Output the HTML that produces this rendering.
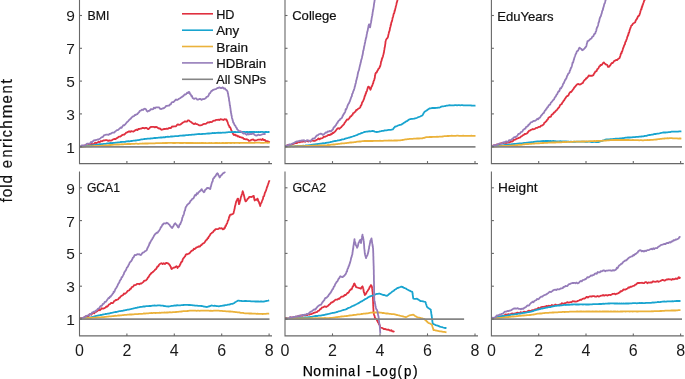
<!DOCTYPE html><html><head><meta charset="utf-8"><style>html,body{margin:0;padding:0;background:#fff;}svg{display:block;will-change:transform;}text{font-family:"Liberation Sans", sans-serif;fill:#111111;stroke:#111111;stroke-width:0.2px;}</style></head><body>
<svg width="685" height="379" viewBox="0 0 685 379">
<rect width="685" height="379" fill="#fff"/>
<defs>
<clipPath id="cBMI"><rect x="79.5" y="-0.9" width="196.5" height="164.0"/></clipPath>
<clipPath id="cCollege"><rect x="285.0" y="-0.9" width="197.0" height="164.0"/></clipPath>
<clipPath id="cEduYears"><rect x="491.4" y="-0.9" width="196.4" height="164.0"/></clipPath>
<clipPath id="cGCA1"><rect x="79.5" y="171.4" width="196.5" height="164.0"/></clipPath>
<clipPath id="cGCA2"><rect x="285.0" y="171.4" width="197.0" height="164.0"/></clipPath>
<clipPath id="cHeight"><rect x="491.4" y="171.4" width="196.4" height="164.0"/></clipPath>
</defs>
<g clip-path="url(#cBMI)" fill="none" stroke-width="1.8" stroke-linejoin="round" stroke-linecap="butt">
<polyline stroke="#e0303f" points="79.5,146.7 80.6,147.1 81.7,146.5 82.8,146.8 83.8,145.8 84.9,145.4 86.0,145.5 87.1,145.5 88.2,145.0 89.4,144.1 90.6,144.0 91.7,144.0 92.9,144.1 94.1,143.9 95.2,142.7 96.3,143.1 97.5,142.5 98.7,141.7 99.8,142.2 100.9,141.0 102.1,141.3 103.3,140.5 104.6,140.4 105.8,140.1 107.0,140.2 108.3,140.9 109.5,140.4 110.7,140.6 111.8,140.3 112.9,139.5 114.1,139.0 115.3,139.2 116.6,138.3 117.8,137.6 118.9,136.6 120.0,136.7 121.1,135.9 122.2,135.1 123.3,134.7 124.4,134.5 125.3,133.7 126.2,132.6 127.1,132.4 128.0,131.9 129.1,131.2 130.2,131.9 131.3,131.1 132.4,131.4 133.5,131.6 134.6,130.8 135.6,130.0 136.5,129.6 137.5,130.1 138.5,128.8 139.4,129.0 140.4,128.6 141.4,128.6 142.4,127.9 143.5,128.0 144.5,128.4 145.5,127.9 146.6,127.8 147.7,129.0 148.7,129.0 149.7,127.8 150.8,127.0 151.8,126.9 152.8,126.8 153.8,126.9 154.9,127.3 155.9,126.9 157.0,127.2 158.0,127.9 159.0,128.6 159.9,128.3 160.9,129.4 162.0,129.8 163.1,129.3 164.2,128.9 165.3,129.0 166.5,128.6 167.7,128.9 168.8,128.1 170.0,127.9 171.0,128.0 172.0,126.5 173.0,126.6 174.0,126.3 175.0,126.4 176.0,126.3 177.0,124.9 178.0,124.4 179.0,124.8 180.0,124.6 181.0,124.1 182.0,123.3 183.0,122.5 184.0,122.0 185.0,121.3 186.0,121.6 186.9,121.6 187.9,120.4 188.9,120.4 189.7,121.2 190.6,121.7 191.4,122.2 192.3,123.1 193.1,123.5 194.2,124.2 195.2,123.3 196.2,124.1 197.3,124.2 198.3,124.7 199.4,125.4 200.4,125.4 201.5,125.2 202.4,124.7 203.4,124.1 204.3,123.8 205.3,123.9 206.2,123.6 207.2,122.8 208.1,122.2 209.1,122.7 210.0,121.8 211.1,122.2 212.1,121.8 213.2,120.9 214.2,120.6 215.2,120.6 216.3,119.8 217.3,119.8 218.4,119.7 219.4,120.0 220.4,119.2 221.4,119.4 222.4,119.7 223.4,120.0 224.4,119.2 225.4,119.5 226.4,119.3 226.8,120.5 227.3,121.5 227.7,122.4 228.1,123.8 228.6,125.2 229.0,125.6 229.5,127.2 229.9,127.0 230.4,127.8 230.9,129.2 231.3,130.2 231.8,131.1 232.3,132.3 232.7,133.0 233.2,134.1 234.1,135.1 235.0,134.5 235.9,135.6 236.8,135.4 237.7,136.5 238.6,136.2 239.5,137.2 240.6,137.2 241.6,137.6 242.7,137.7 243.7,138.9 244.8,139.0 245.8,139.3 246.9,139.2 247.9,139.7 248.9,140.9 250.0,140.6 251.1,140.0 252.1,139.6 253.2,139.5 254.5,140.5 255.8,140.3 257.0,140.0 258.2,139.6 259.4,139.6 260.6,139.5 261.7,140.0 262.7,139.0 263.8,140.2 264.8,139.8 265.8,141.1 267.1,141.2 268.5,141.6 269.8,142.2"/>
<polyline stroke="#18a4cf" points="79.5,146.7 80.6,146.6 81.7,146.5 82.8,146.4 83.8,146.4 84.9,146.4 86.0,146.1 87.1,146.0 88.2,146.0 89.2,145.8 90.3,145.6 91.3,145.5 92.3,145.5 93.4,145.2 94.4,145.2 95.4,144.9 96.5,144.7 97.5,144.6 98.5,144.4 99.5,144.2 100.6,144.2 101.6,144.1 102.6,144.1 103.6,143.9 104.7,143.8 105.7,143.8 106.7,143.5 107.7,143.3 108.7,143.3 109.8,143.1 110.8,143.0 111.8,143.1 112.8,143.0 113.9,142.9 114.9,142.8 115.9,142.7 116.9,142.6 118.0,142.3 119.0,142.3 120.0,142.2 121.0,142.0 122.1,141.9 123.1,141.8 124.2,141.8 125.2,141.8 126.3,141.4 127.3,141.4 128.3,141.2 129.4,141.4 130.4,141.2 131.5,141.0 132.5,140.8 133.6,140.7 134.6,140.7 135.6,140.5 136.6,140.3 137.6,140.1 138.6,140.2 139.6,139.8 140.5,139.6 141.5,139.4 142.5,139.3 143.5,139.2 144.5,139.0 145.5,138.9 146.5,138.9 147.5,138.6 148.5,138.7 149.5,138.6 150.5,138.5 151.5,138.4 152.5,138.3 153.5,138.1 154.5,138.0 155.5,138.0 156.5,137.8 157.5,137.8 158.6,137.7 159.6,137.6 160.7,137.4 161.7,137.5 162.7,137.3 163.8,137.2 164.8,137.3 165.8,136.9 166.9,136.9 167.9,136.7 169.0,136.8 170.0,136.7 171.0,136.5 172.0,136.5 173.0,136.3 174.0,136.3 175.0,136.2 176.0,136.1 177.0,136.1 178.0,136.1 179.0,135.8 180.0,135.7 181.0,135.7 182.1,135.7 183.1,135.5 184.1,135.5 185.1,135.3 186.1,135.1 187.1,135.1 188.1,135.1 189.1,134.8 190.1,134.8 191.1,134.9 192.1,134.6 193.1,134.6 194.1,134.6 195.1,134.4 196.1,134.3 197.1,134.2 198.1,134.2 199.1,134.0 200.1,134.1 201.1,134.1 202.1,134.0 203.1,133.9 204.2,133.9 205.2,133.8 206.2,133.7 207.2,133.7 208.2,133.3 209.2,133.5 210.2,133.4 211.2,133.3 212.2,133.0 213.2,133.1 214.2,133.0 215.2,133.1 216.2,132.9 217.2,132.9 218.2,132.7 219.2,132.9 220.2,132.7 221.2,132.8 222.2,132.7 223.2,132.6 224.2,132.6 225.3,132.6 226.3,132.4 227.3,132.3 228.3,132.2 229.3,132.2 230.3,132.2 231.3,132.2 232.3,132.0 233.3,132.2 234.3,132.0 235.3,132.0 236.3,132.1 237.3,132.1 238.3,132.0 239.3,132.1 240.3,132.1 241.3,131.9 242.3,131.9 243.3,131.9 244.3,131.9 245.3,132.1 246.4,132.0 247.4,132.0 248.4,132.1 249.4,131.9 250.4,132.0 251.4,131.9 252.4,132.0 253.4,131.9 254.4,132.0 255.4,132.1 256.4,132.0 257.4,132.1 258.4,131.9 259.4,132.1 260.4,132.0 261.4,131.9 262.4,131.9 263.5,132.1 264.5,132.1 265.5,132.0 266.5,131.9 267.5,132.1 268.5,132.0 269.5,132.0"/>
<polyline stroke="#ebb23b" points="79.5,146.7 80.5,146.7 81.5,146.6 82.5,146.6 83.5,146.5 84.5,146.5 85.5,146.5 86.5,146.4 87.5,146.3 88.5,146.4 89.5,146.3 90.5,146.2 91.5,146.3 92.5,146.2 93.5,146.2 94.5,146.0 95.5,146.2 96.5,146.0 97.5,146.0 98.5,145.9 99.5,145.9 100.6,145.8 101.6,145.7 102.6,145.7 103.6,145.6 104.7,145.5 105.7,145.4 106.7,145.3 107.7,145.3 108.8,145.1 109.8,145.0 110.8,145.0 111.8,144.9 112.8,144.8 113.9,144.7 114.9,144.6 115.9,144.6 116.9,144.4 118.0,144.5 119.0,144.5 120.0,144.3 121.0,144.3 122.1,144.2 123.1,144.3 124.2,144.2 125.2,144.2 126.3,144.2 127.3,144.0 128.3,144.0 129.4,144.0 130.4,144.0 131.5,143.9 132.5,143.9 133.6,143.8 134.6,143.8 135.6,143.7 136.7,143.7 137.7,143.8 138.8,143.8 139.8,143.7 140.9,143.6 141.9,143.6 142.9,143.5 143.9,143.6 144.9,143.5 145.9,143.4 146.9,143.5 147.9,143.5 148.9,143.4 149.9,143.3 150.9,143.4 151.9,143.4 152.9,143.4 153.9,143.3 154.9,143.3 155.9,143.2 157.0,143.2 158.0,143.2 159.0,143.2 160.0,143.1 161.0,143.2 162.0,143.1 163.0,143.0 164.0,143.1 165.0,143.0 166.0,143.0 167.0,143.0 168.0,142.9 169.0,142.9 170.0,142.9 171.0,142.9 172.0,142.9 173.0,143.0 174.0,142.9 175.0,143.0 176.0,142.8 177.0,142.8 178.0,142.9 179.0,142.9 180.0,143.0 181.1,143.0 182.1,142.9 183.1,143.0 184.1,142.9 185.1,142.9 186.1,143.0 187.1,143.0 188.1,143.0 189.1,143.0 190.1,143.0 191.1,143.0 192.1,142.9 193.1,143.0 194.1,143.1 195.1,143.0 196.1,143.1 197.1,143.0 198.1,143.1 199.1,143.0 200.1,143.1 201.1,143.0 202.1,143.0 203.1,143.0 204.2,143.1 205.2,143.0 206.2,143.1 207.2,143.1 208.2,143.1 209.2,143.0 210.2,143.1 211.2,143.0 212.2,143.2 213.2,143.1 214.2,143.1 215.2,143.0 216.2,143.0 217.2,143.0 218.2,143.1 219.2,143.0 220.2,143.1 221.2,143.1 222.2,143.0 223.2,142.9 224.2,143.1 225.3,143.0 226.3,143.0 227.3,143.0 228.3,142.9 229.3,142.9 230.3,143.0 231.3,143.0 232.3,142.9 233.3,142.9 234.3,143.0 235.3,142.9 236.3,142.9 237.3,142.9 238.3,142.8 239.4,143.0 240.4,142.8 241.4,142.8 242.4,142.8 243.4,142.8 244.4,142.8 245.4,142.9 246.5,142.8 247.5,142.8 248.5,142.8 249.5,142.9 250.5,142.9 251.5,142.7 252.6,142.8 253.6,142.8 254.6,142.8 255.6,142.7 256.6,142.7 257.6,142.7 258.6,142.7 259.7,142.7 260.7,142.8 261.7,142.8 262.7,142.8 263.7,142.8 264.7,142.7 265.7,142.6 266.8,142.7 267.8,142.8 268.8,142.7 269.8,142.7"/>
<polyline stroke="#957cb9" points="79.5,146.7 80.5,147.1 81.5,145.5 82.6,145.5 83.6,145.5 84.8,145.7 85.9,144.7 87.0,143.7 88.2,143.7 89.1,143.9 90.1,143.4 91.0,141.9 92.0,142.4 92.9,141.3 94.1,140.3 95.2,140.1 96.3,140.0 97.5,139.5 98.4,139.6 99.3,139.0 100.3,138.5 101.2,137.5 102.1,137.2 103.2,136.6 104.2,135.1 105.3,134.9 106.4,134.6 107.5,134.6 108.6,134.9 109.5,134.0 110.4,133.8 111.4,133.4 112.3,132.6 113.2,132.6 114.1,132.7 115.0,131.7 116.0,130.9 116.9,130.1 117.8,130.2 118.7,129.3 119.6,128.6 120.6,127.5 121.5,127.9 122.4,126.6 123.3,125.1 124.2,125.3 125.2,124.4 126.1,123.3 126.8,122.2 127.5,121.7 128.3,121.1 129.0,120.1 129.8,119.3 130.7,118.7 131.5,117.6 132.3,116.9 133.1,116.3 133.9,116.3 134.8,115.0 135.6,115.0 136.5,114.3 137.3,114.1 138.2,113.0 139.1,112.2 139.9,110.8 140.8,110.7 141.9,109.7 142.9,110.0 143.9,109.0 145.0,108.7 145.9,109.2 146.7,110.8 147.6,111.6 148.4,110.9 149.3,110.9 150.2,110.0 151.0,109.0 152.0,109.4 153.0,109.2 154.0,107.6 154.9,108.3 155.9,107.3 156.9,107.4 157.9,107.3 159.0,107.3 160.2,108.9 161.3,109.0 162.3,108.5 163.3,108.4 164.3,107.9 165.2,107.1 166.2,105.9 167.2,105.8 168.2,105.6 169.1,105.6 169.9,104.5 170.8,104.3 171.6,102.5 172.5,102.1 173.4,102.1 174.2,101.3 175.1,100.4 176.1,99.4 177.1,100.0 178.0,99.5 179.0,98.7 180.0,98.2 181.0,97.5 181.9,96.9 182.8,96.4 183.6,95.7 184.5,94.5 185.4,94.5 186.3,93.9 187.1,92.6 188.0,93.1 188.9,91.9 189.5,92.2 190.1,94.2 190.7,94.4 191.3,96.0 191.9,95.8 192.5,97.7 193.1,98.2 194.2,98.9 195.2,98.3 196.2,98.3 197.3,99.7 198.3,99.6 199.4,98.9 200.4,99.0 201.5,99.9 202.6,99.1 203.7,99.0 204.7,98.8 205.8,98.2 206.5,96.8 207.2,96.8 207.9,96.4 208.6,95.5 209.3,93.5 210.0,93.4 210.7,92.1 211.4,90.9 212.1,90.8 213.3,89.8 214.5,89.4 215.7,89.2 216.6,88.6 217.6,88.0 218.5,87.9 219.4,87.4 220.5,88.0 221.6,88.0 222.7,87.4 223.8,88.5 224.9,88.3 225.6,89.6 226.3,90.1 227.0,90.6 227.7,92.0 227.9,93.6 228.1,93.6 228.2,94.5 228.4,96.3 228.6,96.7 228.8,97.7 229.0,99.0 229.1,100.6 229.3,101.1 229.5,102.2 229.6,103.2 229.8,104.8 229.9,105.8 230.1,105.6 230.2,107.2 230.4,108.2 230.5,108.8 230.7,110.7 230.8,111.8 231.0,112.6 231.1,113.4 231.3,113.6 231.4,115.1 231.7,115.9 231.9,117.7 232.2,118.8 232.4,118.8 232.7,120.5 232.9,120.8 233.2,122.5 233.8,123.0 234.3,124.5 234.9,125.4 235.5,126.0 236.1,127.5 236.7,127.9 237.2,129.4 237.8,129.9 238.7,130.7 239.7,131.3 240.6,131.2 241.5,131.9 242.5,132.8 243.4,133.6 244.5,133.2 245.6,134.0 246.7,134.8 247.8,133.6 248.9,134.5 250.1,133.9 251.4,134.1 252.6,133.6 253.5,133.5 254.4,134.7 255.4,135.3 256.3,135.5 257.4,135.3 258.5,134.6 259.7,135.2 260.8,134.9 261.9,134.5 263.1,134.1 264.4,134.0 265.6,134.0"/>
<line x1="79.5" y1="146.9" x2="269.5" y2="146.9" stroke="#858585" stroke-width="1.7"/>
</g>
<g stroke="#686868" stroke-width="1.1" fill="none">
<path d="M79.5,-0.9 V163.6 H272.0"/>
<line x1="79.5" y1="146.7" x2="82.0" y2="146.7"/>
<line x1="79.5" y1="113.9" x2="82.0" y2="113.9"/>
<line x1="79.5" y1="81.1" x2="82.0" y2="81.1"/>
<line x1="79.5" y1="48.3" x2="82.0" y2="48.3"/>
<line x1="79.5" y1="15.5" x2="82.0" y2="15.5"/>
<line x1="126.9" y1="163.6" x2="126.9" y2="161.1"/>
<line x1="174.3" y1="163.6" x2="174.3" y2="161.1"/>
<line x1="221.7" y1="163.6" x2="221.7" y2="161.1"/>
<line x1="269.1" y1="163.6" x2="269.1" y2="161.1"/>
</g>
<text x="87.6" y="19.9" font-size="13" textLength="21.9" lengthAdjust="spacingAndGlyphs">BMI</text>
<text x="74.9" y="152.6" font-size="15.5" text-anchor="end" style="stroke-width:0;fill:#1a1a1a">1</text>
<text x="74.9" y="119.8" font-size="15.5" text-anchor="end" style="stroke-width:0;fill:#1a1a1a">3</text>
<text x="74.9" y="87.0" font-size="15.5" text-anchor="end" style="stroke-width:0;fill:#1a1a1a">5</text>
<text x="74.9" y="54.2" font-size="15.5" text-anchor="end" style="stroke-width:0;fill:#1a1a1a">7</text>
<text x="74.9" y="21.4" font-size="15.5" text-anchor="end" style="stroke-width:0;fill:#1a1a1a">9</text>
<g clip-path="url(#cCollege)" fill="none" stroke-width="1.8" stroke-linejoin="round" stroke-linecap="butt">
<polyline stroke="#e0303f" points="285.0,146.6 286.1,146.3 287.1,145.5 288.2,144.9 289.2,145.1 290.3,145.5 291.3,144.7 292.4,144.2 293.5,143.8 294.5,143.5 295.6,142.8 296.6,143.1 297.7,142.6 298.8,141.6 299.8,142.3 300.9,141.5 301.9,141.8 303.0,141.7 304.0,141.0 305.1,141.8 306.1,141.0 307.2,140.9 308.2,141.5 309.3,140.7 310.4,141.6 311.4,140.3 312.4,140.5 313.5,140.8 314.3,141.0 315.4,140.7 316.4,139.9 317.5,139.5 318.5,138.5 319.6,139.4 320.6,138.3 321.7,138.3 322.7,138.0 323.8,136.7 324.8,136.9 325.8,136.3 326.9,136.0 327.9,135.1 328.8,134.9 329.8,135.1 330.7,134.1 331.7,134.4 332.5,133.0 333.3,133.1 334.1,132.3 334.9,131.7 335.7,130.9 336.5,129.6 337.4,128.6 338.4,128.2 339.3,128.8 340.3,127.8 341.2,127.2 341.9,126.2 342.6,125.6 343.3,124.9 343.9,124.3 344.6,122.9 345.3,122.0 346.0,120.9 347.0,119.4 348.1,119.6 349.1,118.5 349.8,117.4 350.5,116.3 351.2,116.3 351.8,115.2 352.5,114.8 353.2,113.2 353.9,113.0 354.7,112.1 355.5,111.5 356.3,109.9 357.1,109.8 358.1,108.8 359.2,108.3 360.2,107.4 360.7,105.9 361.1,105.4 361.6,104.6 362.0,102.7 362.5,101.9 362.9,101.4 363.4,100.3 363.8,99.2 364.1,98.7 364.5,97.0 364.8,95.8 365.2,95.6 365.5,93.9 365.9,93.9 366.2,92.0 366.6,91.6 367.0,90.6 367.3,89.5 367.7,88.1 368.0,87.1 368.4,86.6 369.1,87.1 369.8,88.4 370.5,89.8 370.9,88.6 371.3,87.4 371.6,86.4 372.0,86.2 372.4,85.1 372.8,83.8 373.2,83.2 373.5,81.5 373.9,80.6 374.3,80.0 374.5,78.5 374.7,78.3 374.9,77.2 375.0,75.5 375.2,75.1 375.4,73.8 376.0,72.7 376.6,72.6 377.2,71.1 377.8,70.3 378.4,68.8 379.0,68.5 379.6,67.5 379.9,66.1 380.2,66.2 380.4,65.2 380.7,64.2 381.0,62.1 381.3,61.1 381.6,60.8 381.8,58.9 382.1,59.0 382.4,57.5 382.7,57.2 383.0,56.2 383.2,55.0 383.5,54.2 383.8,52.7 384.0,52.2 384.1,50.9 384.3,50.0 384.5,48.6 384.7,47.2 384.9,46.9 385.0,46.0 385.2,44.5 385.4,43.6 385.5,41.7 385.7,41.0 385.9,40.1 386.6,38.9 387.3,38.2 388.0,36.9 388.2,35.6 388.5,34.3 388.7,33.7 388.9,32.4 389.1,32.0 389.4,31.1 389.6,30.7 389.8,29.5 390.1,27.6 390.3,27.3 390.5,26.7 390.7,24.8 391.0,24.9 391.2,23.2 391.5,22.0 391.8,21.8 392.0,20.8 392.3,19.7 392.6,17.8 392.9,17.3 393.2,16.2 393.4,15.1 393.7,13.7 394.0,13.3 394.3,13.0 394.6,10.7 394.8,11.0 395.1,9.6 395.4,8.4 395.7,7.2 395.9,6.0 396.2,5.2 396.4,4.4 396.7,2.6 397.0,2.0 397.2,1.2 397.5,0.0 397.7,-1.1 397.8,-1.9 398.0,-3.0"/>
<polyline stroke="#18a4cf" points="285.0,146.6 286.0,146.5 287.0,146.4 288.0,146.4 289.0,146.4 290.0,146.4 291.0,146.2 292.0,146.2 293.0,146.3 294.0,146.3 295.1,146.0 296.1,146.1 297.1,146.0 298.1,145.9 299.1,145.9 300.1,146.0 301.1,146.0 302.1,146.0 303.1,145.7 304.1,145.9 305.1,145.7 306.1,145.4 307.1,145.4 308.1,145.4 309.1,145.2 310.1,145.1 311.1,145.0 312.1,144.7 313.1,144.6 314.1,144.4 315.1,144.4 316.2,144.2 317.2,144.2 318.2,143.9 319.2,143.8 320.2,143.6 321.2,143.6 322.2,143.4 323.2,143.2 324.2,143.3 325.2,143.0 326.2,142.9 327.2,142.6 328.2,142.6 329.2,142.3 330.2,142.2 331.2,141.8 332.2,141.7 333.2,141.4 334.2,141.2 335.1,141.0 336.1,140.8 337.1,140.6 338.1,140.3 339.1,140.3 340.1,140.0 341.1,139.8 342.1,139.4 343.1,139.3 344.2,139.1 345.2,138.6 346.2,138.4 347.3,138.2 348.4,137.7 349.4,137.6 350.5,137.2 351.5,136.8 352.6,136.5 353.6,136.2 354.6,135.8 355.5,135.5 356.5,135.1 357.5,134.8 358.4,134.2 359.4,133.9 360.3,133.6 361.3,133.2 362.3,132.8 363.2,132.5 364.2,132.0 365.2,131.8 366.3,131.7 367.4,131.7 368.4,131.3 369.4,131.2 370.5,131.3 371.6,131.1 372.6,130.9 373.7,131.1 374.7,131.6 375.8,131.8 376.8,132.0 377.9,131.9 379.0,131.7 380.0,131.3 381.1,131.2 382.2,130.9 383.3,130.9 384.3,130.5 385.4,130.4 386.4,130.3 387.5,130.1 388.6,129.9 389.6,129.9 390.7,129.8 391.7,129.6 392.8,129.4 393.5,128.4 394.2,127.7 394.9,126.7 395.9,126.5 397.0,126.1 398.0,125.5 399.1,125.2 400.1,124.8 401.2,124.6 402.1,124.1 403.1,123.4 404.0,122.8 404.9,122.4 405.9,121.5 406.8,121.1 407.7,120.6 408.7,119.8 409.6,119.3 410.7,119.0 411.7,118.9 412.8,118.8 413.9,118.7 414.9,118.5 416.0,118.2 417.1,117.7 418.1,117.2 419.1,116.9 420.2,116.5 421.2,115.9 422.3,115.5 422.8,114.7 423.4,113.6 423.9,112.8 424.4,111.9 425.3,111.3 426.2,110.8 427.0,110.2 427.9,109.5 428.8,108.9 429.7,108.3 430.8,108.3 431.8,108.0 432.9,108.0 433.9,107.9 435.0,108.0 436.0,107.8 437.1,107.9 438.1,107.7 439.2,107.7 440.2,107.2 441.3,106.6 442.4,106.3 443.4,106.3 444.4,106.2 445.5,106.0 446.6,105.6 447.6,105.6 448.6,105.4 449.7,105.2 450.8,105.3 451.8,105.3 452.9,105.3 453.9,105.3 455.0,105.1 456.0,105.1 457.1,105.3 458.2,105.1 459.2,105.1 460.3,105.3 461.3,105.2 462.4,105.2 463.4,105.4 464.4,105.4 465.4,105.4 466.4,105.3 467.4,105.4 468.4,105.4 469.5,105.3 470.5,105.3 471.5,105.5 472.5,105.6 473.5,105.7 474.5,105.7 475.5,105.6"/>
<polyline stroke="#ebb23b" points="285.0,146.6 286.0,146.6 287.0,146.6 288.0,146.4 289.0,146.5 290.0,146.5 291.0,146.4 292.0,146.3 293.0,146.3 294.0,146.3 295.0,146.3 296.1,146.2 297.1,146.3 298.1,146.1 299.1,146.2 300.1,146.2 301.1,146.2 302.1,146.1 303.1,146.1 304.1,146.1 305.1,146.1 306.1,145.9 307.1,145.9 308.1,145.8 309.1,145.9 310.1,145.8 311.1,145.8 312.1,145.7 313.1,145.7 314.1,145.7 315.1,145.6 316.2,145.5 317.2,145.6 318.2,145.6 319.2,145.4 320.2,145.4 321.2,145.5 322.2,145.5 323.2,145.4 324.2,145.3 325.2,145.3 326.2,145.3 327.2,145.2 328.2,145.0 329.2,145.1 330.2,144.9 331.2,144.7 332.2,144.6 333.2,144.5 334.2,144.5 335.2,144.3 336.2,144.1 337.3,144.1 338.3,143.9 339.3,143.8 340.3,143.7 341.3,143.5 342.3,143.4 343.3,143.4 344.3,143.3 345.3,143.1 346.3,143.1 347.3,142.9 348.3,142.9 349.3,142.6 350.3,142.5 351.3,142.5 352.3,142.3 353.3,142.3 354.3,142.1 355.3,142.1 356.2,141.9 357.2,141.7 358.2,141.6 359.2,141.5 360.2,141.5 361.2,141.3 362.2,141.2 363.2,141.1 364.2,141.0 365.3,141.0 366.3,141.0 367.4,140.9 368.4,141.0 369.5,141.0 370.6,141.0 371.6,140.9 372.7,141.0 373.8,140.9 374.8,140.9 375.9,140.8 376.9,140.8 378.0,140.8 379.0,140.8 380.0,140.7 381.0,140.8 382.0,140.8 383.0,140.8 384.0,140.7 385.0,140.6 386.0,140.6 387.0,140.6 388.0,140.7 389.1,140.5 390.1,140.6 391.1,140.5 392.1,140.6 393.1,140.6 394.1,140.5 395.1,140.5 396.1,140.4 397.1,140.5 398.1,140.4 399.1,140.4 400.2,140.3 401.2,140.1 402.2,140.0 403.3,139.8 404.4,139.6 405.4,139.4 406.5,139.4 407.5,139.2 408.6,139.1 409.6,138.9 410.7,138.9 411.7,138.9 412.8,138.8 413.8,138.7 414.9,138.7 416.0,138.7 417.0,138.5 418.1,138.5 419.1,138.5 420.2,138.4 421.2,138.4 422.3,138.3 423.4,137.9 424.4,137.8 425.4,137.4 426.5,137.2 427.6,137.1 428.6,137.1 429.7,137.0 430.7,137.0 431.8,137.0 432.8,136.9 433.9,136.9 435.0,136.9 436.0,136.8 437.1,136.7 438.1,136.8 439.2,136.7 440.2,136.7 441.3,136.6 442.4,136.5 443.4,136.3 444.4,136.2 445.5,136.2 446.6,136.1 447.6,135.9 448.6,136.0 449.7,135.8 450.7,135.8 451.8,135.7 452.8,135.8 453.8,135.8 454.9,135.8 455.9,135.8 456.9,135.7 458.0,135.7 459.0,135.8 460.0,135.9 461.1,135.9 462.1,135.8 463.1,135.7 464.1,135.9 465.2,135.8 466.2,135.8 467.2,135.8 468.3,135.8 469.3,135.8 470.3,135.8 471.4,135.7 472.4,135.8 473.4,135.8 474.5,135.8 475.5,135.8"/>
<polyline stroke="#957cb9" points="285.0,146.6 286.1,145.7 287.1,145.2 288.2,145.7 289.2,144.3 290.3,144.4 291.3,144.3 292.4,143.6 293.5,143.1 294.5,142.6 295.6,141.9 296.6,141.5 297.7,141.3 298.8,141.2 299.8,140.7 300.9,140.8 301.9,140.4 302.9,140.5 304.0,140.2 305.0,141.1 306.0,141.0 307.0,140.1 308.0,140.3 309.1,141.1 310.1,141.0 311.1,140.4 312.0,139.4 313.0,138.4 313.9,138.8 314.9,138.1 315.8,136.7 316.8,135.5 317.7,135.3 318.7,134.3 319.6,134.0 320.6,133.6 321.7,133.9 322.7,134.8 323.8,134.4 324.8,133.4 325.8,132.3 326.7,132.7 327.7,131.5 328.7,131.7 329.7,130.9 330.7,131.3 331.7,130.9 332.3,129.8 333.0,129.4 333.6,127.6 334.3,127.1 334.9,126.5 335.5,125.6 336.1,125.0 336.8,123.3 337.4,123.0 338.0,121.7 338.8,120.5 339.6,120.2 340.4,118.8 341.2,118.5 342.0,117.7 342.5,116.2 343.0,115.6 343.4,114.4 343.9,114.0 344.4,113.0 344.8,112.6 345.3,111.5 345.7,109.2 346.2,109.5 346.6,108.3 347.1,107.3 347.5,105.8 348.0,104.6 348.4,103.9 348.9,103.4 349.3,102.2 349.8,101.4 350.2,100.1 350.7,98.7 351.1,97.5 351.4,96.7 351.8,96.4 352.1,94.2 352.5,93.6 352.8,93.1 353.2,91.4 353.5,90.8 353.9,90.0 354.2,89.0 354.5,88.2 354.8,86.3 355.1,86.0 355.4,84.1 355.7,83.4 355.9,82.7 356.2,80.6 356.4,80.0 356.6,79.6 356.9,78.0 357.1,77.4 357.4,76.5 357.6,75.0 357.9,73.5 358.1,72.4 358.4,71.5 358.6,71.0 358.9,70.2 359.1,69.7 359.4,67.9 359.6,67.1 359.9,65.7 360.1,64.8 360.4,64.2 360.6,62.6 360.9,62.0 361.1,60.6 361.4,59.5 361.6,59.1 361.8,58.3 362.0,57.5 362.2,56.2 362.4,55.7 362.7,54.2 362.9,53.3 363.1,51.3 363.3,50.5 363.5,50.4 363.7,49.1 363.9,48.3 364.1,46.6 364.4,45.9 364.6,44.7 364.8,43.3 365.0,43.0 365.2,41.9 365.4,40.3 365.6,40.1 365.8,38.6 366.1,37.9 366.3,37.3 366.5,36.1 366.7,34.5 366.9,33.8 367.1,32.8 367.4,31.2 367.6,31.0 367.8,29.8 368.1,27.9 368.3,27.6 368.5,25.8 368.8,25.1 369.0,24.3 369.4,25.7 369.7,26.2 370.1,27.4 370.3,26.4 370.5,24.9 370.7,23.7 370.9,22.9 371.1,22.2 371.2,21.2 371.4,20.3 371.6,18.7 371.8,17.6 372.0,16.4 372.2,15.8 372.4,14.8 372.5,13.9 372.7,12.0 372.9,11.5 373.0,10.4 373.2,9.8 373.4,8.6 373.5,7.9 373.7,6.8 373.9,5.0 374.0,4.3 374.2,2.9 374.4,2.3 374.5,1.2 374.7,0.0 374.9,-0.4 375.0,-2.1 375.2,-3.0"/>
<line x1="285.0" y1="146.9" x2="475.5" y2="146.9" stroke="#858585" stroke-width="1.7"/>
</g>
<g stroke="#686868" stroke-width="1.1" fill="none">
<path d="M285.0,-0.9 V163.6 H478.0"/>
<line x1="285.0" y1="146.7" x2="287.5" y2="146.7"/>
<line x1="285.0" y1="113.9" x2="287.5" y2="113.9"/>
<line x1="285.0" y1="81.1" x2="287.5" y2="81.1"/>
<line x1="285.0" y1="48.3" x2="287.5" y2="48.3"/>
<line x1="285.0" y1="15.5" x2="287.5" y2="15.5"/>
<line x1="332.5" y1="163.6" x2="332.5" y2="161.1"/>
<line x1="380.0" y1="163.6" x2="380.0" y2="161.1"/>
<line x1="427.5" y1="163.6" x2="427.5" y2="161.1"/>
<line x1="475.0" y1="163.6" x2="475.0" y2="161.1"/>
</g>
<text x="292.2" y="19.9" font-size="13" textLength="44.3" lengthAdjust="spacingAndGlyphs">College</text>
<g clip-path="url(#cEduYears)" fill="none" stroke-width="1.8" stroke-linejoin="round" stroke-linecap="butt">
<polyline stroke="#e0303f" points="491.3,146.6 492.3,146.2 493.3,145.3 494.4,145.3 495.4,145.5 496.4,144.7 497.4,144.5 498.5,144.4 499.5,144.4 500.5,143.6 501.5,143.1 502.6,143.4 503.6,143.2 504.7,142.5 505.7,143.0 506.7,142.8 507.8,142.6 508.8,142.6 509.9,142.1 510.9,141.7 511.8,141.5 512.8,141.4 513.7,139.7 514.6,139.8 515.6,139.5 516.5,138.7 517.4,138.5 518.4,138.2 519.3,137.6 520.2,137.5 521.2,136.3 522.1,136.0 523.0,135.2 523.8,135.0 524.7,133.9 525.6,134.0 526.5,133.7 527.3,133.1 528.2,131.9 529.1,130.7 530.0,130.6 530.8,129.9 531.7,129.6 532.8,129.0 533.9,129.3 535.0,128.7 536.0,127.9 537.1,127.9 538.2,127.2 539.2,126.9 540.1,126.8 541.1,125.7 542.0,125.7 543.0,124.8 543.7,124.5 544.3,122.8 545.0,122.5 545.7,121.6 546.3,121.4 547.0,120.0 547.8,119.5 548.5,117.7 549.3,117.2 550.1,116.9 550.9,116.6 551.7,114.7 552.4,114.5 553.2,113.7 553.9,112.5 554.5,112.5 555.2,111.6 555.8,110.9 556.5,110.3 557.2,109.6 557.8,108.7 558.5,107.9 559.1,107.3 559.8,105.8 560.4,104.6 561.1,104.4 561.7,104.2 562.3,102.7 562.9,102.0 563.5,100.8 564.1,100.5 564.7,99.2 565.4,98.2 566.0,97.4 566.6,96.4 567.2,96.2 567.8,95.9 568.4,95.3 569.0,93.9 569.7,92.8 570.3,92.0 571.0,92.1 571.6,91.4 572.3,90.4 573.0,89.4 573.6,88.8 574.3,87.5 574.9,87.0 575.6,86.2 576.2,85.3 576.9,84.6 578.0,83.9 579.0,84.3 580.1,84.5 581.1,83.9 582.2,83.3 582.9,82.9 583.5,81.5 584.2,80.5 584.8,79.8 585.5,79.5 586.2,78.1 586.8,78.3 587.5,77.3 588.1,76.7 588.8,75.4 589.8,75.8 590.8,75.7 591.8,75.9 592.8,75.4 593.4,75.1 594.1,73.5 594.7,72.9 595.4,71.5 596.0,71.4 596.7,71.0 597.3,69.0 598.0,68.8 598.6,67.9 599.3,66.4 599.9,66.2 600.7,64.8 601.5,65.0 602.2,64.3 603.0,63.1 603.8,62.4 604.6,63.4 605.5,64.0 606.3,64.7 607.2,64.8 608.0,66.8 608.9,66.9 609.6,66.0 610.4,65.2 611.1,63.8 611.8,63.0 612.5,63.1 613.3,62.3 614.0,61.1 615.0,60.7 616.1,59.9 617.1,60.0 618.2,58.9 619.2,58.3 619.6,57.9 620.0,56.7 620.3,56.0 620.7,54.2 621.1,53.1 621.5,53.3 621.8,51.5 622.2,51.4 622.6,50.1 623.0,48.6 623.4,47.5 623.7,46.9 624.1,45.4 624.5,44.8 624.9,44.4 625.2,42.5 625.6,41.7 626.0,41.2 626.3,40.0 626.6,39.5 627.0,38.3 627.3,36.9 627.6,36.5 628.0,35.1 628.3,35.0 628.6,32.9 628.9,32.9 629.2,32.1 629.6,30.6 629.9,29.2 630.2,28.7 630.6,27.7 630.9,26.8 631.2,25.7 632.0,25.3 632.8,23.9 633.6,23.2 634.4,22.8 635.2,22.2 635.7,20.6 636.2,19.8 636.7,19.2 637.2,18.3 637.8,16.8 638.3,16.0 638.8,16.0 639.3,15.3 639.8,13.7 640.1,13.0 640.5,11.0 640.8,10.3 641.2,9.0 641.5,9.1 641.8,7.0 642.2,7.0 642.5,5.0 642.9,4.9 643.2,3.4 643.7,2.3 644.2,0.6 644.7,0.0 644.8,-0.3 644.9,-2.0 645.0,-3.0"/>
<polyline stroke="#18a4cf" points="491.3,146.6 492.4,146.4 493.4,146.4 494.4,146.3 495.5,146.0 496.6,145.9 497.6,145.8 498.6,145.6 499.7,145.6 500.8,145.5 501.8,145.4 502.9,145.4 503.9,145.1 504.9,145.0 506.0,144.9 507.0,144.8 508.0,144.7 509.0,144.6 510.0,144.5 511.0,144.4 512.0,144.2 513.0,144.2 514.0,144.0 515.1,143.9 516.1,143.8 517.1,143.7 518.1,143.6 519.1,143.5 520.1,143.4 521.1,143.4 522.1,143.3 523.1,143.1 524.1,142.9 525.1,142.8 526.1,142.9 527.1,142.6 528.1,142.6 529.1,142.4 530.2,142.4 531.2,142.2 532.2,142.1 533.2,142.0 534.2,141.8 535.2,141.6 536.2,141.7 537.2,141.4 538.2,141.3 539.2,141.3 540.2,141.3 541.2,141.1 542.2,141.2 543.2,141.0 544.2,141.1 545.2,141.0 546.2,140.9 547.2,141.0 548.2,140.9 549.2,141.1 550.2,140.9 551.2,141.1 552.2,141.1 553.2,140.9 554.2,141.2 555.2,141.1 556.2,141.3 557.2,141.3 558.2,141.3 559.2,141.3 560.2,141.2 561.2,141.4 562.2,141.3 563.2,141.3 564.2,141.5 565.2,141.3 566.2,141.5 567.3,141.7 568.3,141.5 569.3,141.8 570.3,141.7 571.3,141.7 572.3,141.8 573.3,141.8 574.3,141.6 575.3,141.8 576.3,141.7 577.3,141.6 578.3,141.6 579.3,141.6 580.3,141.7 581.3,141.7 582.3,141.6 583.3,141.6 584.3,141.6 585.3,141.8 586.3,141.7 587.4,141.8 588.4,141.7 589.5,141.7 590.6,141.9 591.7,142.0 592.7,142.1 593.8,141.9 594.9,141.9 596.0,142.0 597.0,142.2 598.1,142.2 599.1,141.8 600.2,141.5 601.2,141.2 602.3,140.8 603.3,140.4 604.4,140.1 605.4,139.7 606.4,139.5 607.4,139.4 608.4,139.4 609.4,139.4 610.4,139.2 611.4,139.2 612.4,139.1 613.5,138.9 614.5,138.8 615.5,138.7 616.5,138.7 617.5,138.6 618.5,138.6 619.5,138.5 620.5,138.3 621.5,138.3 622.5,138.1 623.6,138.1 624.6,137.9 625.7,137.7 626.7,137.7 627.8,137.5 628.8,137.4 629.8,137.5 630.9,137.3 631.9,137.3 633.0,137.1 634.0,137.2 635.1,137.1 636.1,136.9 637.1,136.8 638.2,136.8 639.2,136.6 640.3,136.6 641.3,136.5 642.4,136.4 643.4,136.4 644.4,136.0 645.5,135.9 646.5,135.8 647.6,135.4 648.6,135.2 649.7,135.0 650.7,134.9 651.8,134.7 652.8,134.6 653.9,134.2 655.0,134.0 656.0,134.0 657.1,133.7 658.1,133.6 659.2,133.4 660.3,133.1 661.3,132.8 662.4,132.7 663.4,132.5 664.4,132.5 665.5,132.5 666.5,132.3 667.5,132.3 668.5,132.1 669.5,132.1 670.6,132.0 671.6,131.7 672.6,131.7 673.7,131.7 674.8,131.7 675.9,131.7 677.0,131.6 678.1,131.6 679.2,131.4 680.3,131.4 681.4,131.3"/>
<polyline stroke="#ebb23b" points="491.3,146.6 492.3,146.6 493.4,146.6 494.4,146.5 495.5,146.4 496.5,146.5 497.6,146.4 498.6,146.3 499.6,146.2 500.7,146.2 501.7,146.1 502.8,146.0 503.8,146.0 504.8,146.0 505.9,146.0 506.9,146.0 508.0,145.8 509.0,145.9 510.1,145.7 511.1,145.7 512.1,145.6 513.1,145.4 514.1,145.3 515.1,145.3 516.1,145.2 517.1,145.2 518.1,144.9 519.1,144.9 520.1,144.7 521.1,144.8 522.2,144.7 523.2,144.4 524.2,144.4 525.2,144.2 526.2,144.2 527.2,144.0 528.2,144.1 529.2,143.9 530.2,143.8 531.2,143.8 532.2,143.6 533.2,143.6 534.2,143.6 535.2,143.4 536.2,143.3 537.2,143.4 538.2,143.2 539.2,143.3 540.2,143.2 541.2,143.1 542.2,143.0 543.3,143.0 544.3,142.9 545.3,142.8 546.3,142.8 547.3,142.8 548.3,142.7 549.3,142.7 550.3,142.6 551.3,142.6 552.3,142.5 553.3,142.5 554.3,142.5 555.3,142.5 556.3,142.3 557.3,142.3 558.3,142.2 559.3,142.3 560.3,142.2 561.3,142.3 562.3,142.2 563.3,142.0 564.4,142.1 565.4,142.0 566.4,142.1 567.4,141.9 568.4,141.9 569.4,141.9 570.4,141.9 571.4,141.8 572.4,141.8 573.4,141.7 574.4,141.7 575.5,141.6 576.5,141.7 577.6,141.7 578.6,141.7 579.7,141.7 580.8,141.6 581.8,141.5 582.9,141.5 583.9,141.5 585.0,141.5 586.0,141.4 587.1,141.3 588.1,141.3 589.2,141.3 590.2,141.2 591.3,141.2 592.3,141.2 593.3,141.1 594.4,141.0 595.4,141.1 596.5,141.0 597.5,140.9 598.6,140.8 599.6,140.8 600.6,140.8 601.7,140.8 602.7,140.6 603.8,140.6 604.8,140.6 605.9,140.5 606.9,140.3 607.9,140.4 609.0,140.4 610.0,140.2 611.1,140.1 612.1,140.0 613.2,140.2 614.2,140.0 615.2,140.0 616.3,139.9 617.3,140.0 618.4,140.0 619.4,140.1 620.5,140.0 621.5,139.9 622.5,140.0 623.6,140.0 624.6,140.0 625.7,140.0 626.7,140.0 627.8,140.0 628.8,140.0 629.8,140.1 630.9,140.1 631.9,140.1 633.0,140.0 634.0,140.1 635.1,140.1 636.1,140.1 637.1,140.2 638.2,140.1 639.2,140.3 640.3,140.2 641.3,140.2 642.4,140.3 643.4,140.3 644.5,140.2 645.5,140.2 646.6,140.1 647.7,140.0 648.7,140.1 649.8,140.0 650.8,139.9 651.9,139.8 653.0,139.8 654.0,139.7 655.1,139.6 656.1,139.5 657.2,139.4 658.2,139.2 659.3,139.1 660.3,138.9 661.4,138.8 662.4,138.6 663.4,138.6 664.5,138.5 665.5,138.4 666.6,138.4 667.6,138.2 668.7,138.3 669.7,138.1 670.8,138.2 671.8,138.1 672.9,138.3 674.0,138.3 675.0,138.3 676.1,138.3 677.1,138.4 678.2,138.6 679.3,138.5 680.3,138.5 681.4,138.6"/>
<polyline stroke="#957cb9" points="491.3,146.6 492.3,146.4 493.3,145.8 494.4,145.0 495.4,145.6 496.4,145.1 497.4,144.3 498.5,144.1 499.5,143.4 500.5,143.6 501.5,143.7 502.4,143.2 503.4,142.2 504.4,142.8 505.3,141.9 506.3,141.4 507.2,141.9 508.2,141.6 509.2,140.1 510.1,140.1 511.1,140.0 511.9,139.1 512.7,138.7 513.5,137.8 514.3,137.1 515.1,137.4 515.9,136.6 516.8,136.3 517.6,135.3 518.4,133.9 519.2,133.8 520.0,133.5 520.8,132.2 521.6,132.0 522.4,131.5 523.1,129.9 523.9,129.4 524.7,128.6 525.4,128.6 526.2,126.8 526.9,126.6 527.7,126.4 528.5,124.7 529.2,124.6 530.0,123.5 530.9,122.3 531.8,122.2 532.7,121.5 533.6,121.0 534.5,120.9 535.5,120.6 536.4,119.9 537.3,118.7 538.2,119.3 539.1,117.9 540.0,117.6 540.6,116.5 541.2,115.6 541.8,115.0 542.4,114.2 543.0,113.3 543.6,113.2 544.3,112.0 544.9,110.6 545.5,110.3 546.1,109.1 546.7,108.7 547.3,107.4 547.9,107.1 548.5,105.8 549.1,105.0 549.7,104.9 550.3,104.2 550.9,102.5 551.5,102.2 552.2,101.3 552.8,100.4 553.4,99.8 554.0,99.5 554.6,97.9 555.2,96.9 555.8,96.5 556.3,95.1 556.9,94.4 557.4,93.8 557.9,92.4 558.4,91.5 559.0,91.6 559.5,90.8 560.0,88.8 560.5,88.1 561.1,88.3 561.6,87.1 562.1,86.6 562.6,85.6 563.2,83.7 563.7,83.3 564.2,82.1 564.6,81.2 565.1,80.0 565.6,79.5 566.1,78.6 566.5,78.0 567.0,76.1 567.5,75.5 567.9,74.4 568.4,73.3 568.9,73.3 569.4,72.6 569.8,70.7 570.3,70.1 570.6,68.9 571.0,67.7 571.3,67.7 571.6,66.8 572.0,65.4 572.3,64.1 572.6,62.5 573.0,62.6 573.3,61.9 573.6,60.4 573.9,59.7 574.3,58.0 574.6,57.2 574.9,56.5 575.3,55.3 575.6,54.3 576.2,53.5 576.7,51.8 577.3,50.9 577.9,50.8 578.5,49.6 579.0,48.4 579.6,47.7 580.5,48.6 581.3,48.8 582.2,50.3 583.0,49.9 583.8,49.2 584.6,48.4 585.4,47.4 586.2,46.4 586.5,45.4 586.7,44.3 587.0,43.1 587.2,42.9 587.5,41.1 588.5,40.9 589.5,39.9 590.5,38.9 591.5,38.5 592.1,37.0 592.8,36.5 593.5,36.0 594.1,34.3 594.8,33.7 595.4,33.2 595.7,31.6 596.0,31.5 596.3,30.5 596.6,28.6 596.9,28.0 597.2,27.3 597.6,26.5 597.9,25.7 598.2,24.7 598.5,22.8 598.8,22.3 599.1,21.6 599.4,20.0 599.7,18.5 600.1,17.7 600.4,16.7 600.8,16.3 601.1,15.2 601.5,13.8 601.8,13.1 602.2,10.9 602.5,10.5 602.8,10.0 603.1,8.8 603.4,7.2 603.7,6.9 604.0,5.2 604.4,3.8 604.7,3.4 605.0,2.4 605.3,1.3 605.6,0.0 605.9,-0.4 606.2,-2.7 606.5,-3.0"/>
<line x1="491.4" y1="146.9" x2="682.0" y2="146.9" stroke="#858585" stroke-width="1.7"/>
</g>
<g stroke="#686868" stroke-width="1.1" fill="none">
<path d="M491.4,-0.9 V163.6 H683.8"/>
<line x1="491.4" y1="146.7" x2="493.9" y2="146.7"/>
<line x1="491.4" y1="113.9" x2="493.9" y2="113.9"/>
<line x1="491.4" y1="81.1" x2="493.9" y2="81.1"/>
<line x1="491.4" y1="48.3" x2="493.9" y2="48.3"/>
<line x1="491.4" y1="15.5" x2="493.9" y2="15.5"/>
<line x1="538.7" y1="163.6" x2="538.7" y2="161.1"/>
<line x1="586.0" y1="163.6" x2="586.0" y2="161.1"/>
<line x1="633.3" y1="163.6" x2="633.3" y2="161.1"/>
<line x1="680.6" y1="163.6" x2="680.6" y2="161.1"/>
</g>
<text x="497.2" y="21.0" font-size="13" textLength="56.3" lengthAdjust="spacingAndGlyphs">EduYears</text>
<g clip-path="url(#cGCA1)" fill="none" stroke-width="1.8" stroke-linejoin="round" stroke-linecap="butt">
<polyline stroke="#e0303f" points="79.5,318.6 80.5,317.8 81.5,317.9 82.5,318.1 83.5,317.8 84.5,317.3 85.5,316.3 86.5,316.2 87.5,316.0 88.5,316.0 89.4,314.4 90.3,314.1 91.3,314.8 92.2,313.4 93.2,312.6 94.2,313.4 95.1,312.1 96.0,311.9 97.0,311.3 98.0,310.4 98.9,309.8 99.8,310.3 100.8,309.3 101.8,308.2 102.7,308.7 103.7,308.5 104.6,308.1 105.5,307.5 106.5,306.5 107.3,306.6 108.2,305.6 109.0,304.4 109.9,304.2 110.7,303.2 111.5,302.9 112.4,303.2 113.2,302.8 114.1,301.1 114.9,300.7 115.8,300.0 116.6,300.0 117.4,299.5 118.2,299.3 119.0,297.8 119.8,297.8 120.6,296.5 121.4,295.9 122.2,295.4 123.1,295.0 124.0,293.5 124.9,293.8 125.8,293.1 126.7,292.3 127.6,290.9 128.5,290.7 129.3,290.3 130.1,289.0 130.9,288.9 131.7,287.2 132.4,286.8 133.2,286.6 134.0,285.2 134.8,285.1 135.9,284.9 137.0,283.8 138.2,283.8 139.3,284.3 140.4,283.5 141.3,283.6 142.2,282.9 143.2,282.1 144.1,280.9 145.0,280.6 145.9,280.4 146.6,279.7 147.3,278.9 148.0,277.3 148.6,277.1 149.3,275.7 150.0,274.6 150.7,274.0 151.5,272.9 152.3,272.5 153.1,271.8 153.8,271.1 154.6,270.4 155.4,269.3 156.1,269.2 156.9,267.5 157.6,266.3 158.3,266.4 159.0,264.9 159.8,264.0 160.5,263.7 161.6,263.2 162.6,264.1 163.7,263.2 164.9,264.0 166.1,262.8 167.3,263.2 168.5,263.7 169.2,264.5 170.0,265.3 170.4,266.5 170.8,266.7 171.2,268.4 171.6,269.0 172.5,268.4 173.4,267.7 174.3,267.6 175.4,267.1 176.4,266.2 177.0,266.9 177.6,268.0 178.2,266.6 178.8,266.7 179.4,266.1 180.0,264.8 180.6,263.7 181.1,262.3 181.7,261.6 182.2,261.5 182.7,259.5 183.3,258.4 183.8,257.9 184.5,256.9 185.1,256.4 185.8,254.7 186.4,254.2 187.4,254.3 188.5,253.7 189.4,253.4 190.3,252.3 191.3,251.1 192.2,250.5 193.0,250.4 193.9,248.6 194.7,249.1 195.6,248.4 196.4,247.4 197.6,247.1 198.8,246.4 200.0,246.5 200.8,245.2 201.6,245.1 202.3,243.9 203.1,243.4 203.9,243.1 204.7,242.3 205.4,241.1 206.2,240.0 207.0,239.7 207.6,238.1 208.2,238.2 208.8,236.7 209.4,236.0 210.0,235.0 210.6,233.8 211.2,233.4 212.0,232.8 212.9,232.2 213.7,230.9 214.6,230.4 215.4,229.2 216.4,229.2 217.5,229.2 218.6,228.8 219.6,228.1 220.7,228.5 221.7,228.2 222.8,229.4 223.8,229.2 224.3,227.8 224.9,228.0 225.4,225.9 225.9,226.0 226.5,224.1 227.0,223.6 227.3,222.7 227.7,221.2 228.1,220.3 228.4,220.0 228.8,218.5 229.1,217.0 229.5,216.7 229.8,215.2 230.7,214.6 231.7,214.5 232.6,214.0 233.5,213.4 233.7,212.6 233.9,211.2 234.2,210.5 234.4,209.4 234.6,208.8 234.8,207.3 235.1,205.9 235.3,205.2 235.5,204.8 235.8,202.9 236.0,202.6 236.2,201.4 236.8,200.5 237.5,198.9 238.1,198.6 238.3,199.3 238.5,201.1 238.6,201.9 238.8,203.4 239.0,204.2 239.3,203.9 239.6,202.4 239.9,201.3 240.1,200.6 240.4,199.7 240.7,198.1 241.0,196.7 241.3,196.7 241.6,195.0 241.8,194.5 242.1,193.8 242.4,192.5 242.7,191.2 243.0,192.0 243.3,192.9 243.5,193.8 243.8,194.8 244.1,195.9 244.4,197.3 244.7,198.8 244.9,199.7 245.2,199.8 245.5,201.4 246.2,201.1 247.0,199.9 247.7,198.7 248.5,198.4 249.2,196.8 250.3,196.8 251.5,197.0 252.7,196.4 253.8,195.9 254.0,197.5 254.2,198.7 254.5,200.0 254.7,200.5 255.6,199.5 256.6,199.9 257.5,198.6 257.9,199.4 258.3,201.3 258.7,201.4 259.0,202.3 259.4,203.7 259.8,204.4 260.2,206.0 260.5,204.4 260.9,203.5 261.2,202.8 261.6,202.6 261.9,201.1 262.3,200.4 262.6,199.7 263.0,198.9 263.3,196.8 263.6,196.1 264.0,196.1 264.3,195.2 264.7,193.5 265.0,192.6 265.4,192.0 265.7,191.1 266.1,190.4 266.4,189.1 266.7,188.2 267.1,186.8 267.4,186.5 267.8,184.9 268.1,184.3 268.5,183.1 268.8,182.0 269.2,181.1 269.5,180.2"/>
<polyline stroke="#18a4cf" points="79.5,318.6 80.5,318.6 81.5,318.5 82.5,318.5 83.5,318.3 84.5,318.0 85.5,318.0 86.5,317.9 87.5,317.9 88.5,317.7 89.5,317.4 90.6,317.3 91.6,317.1 92.6,316.8 93.6,316.7 94.7,316.3 95.7,316.0 96.7,315.9 97.7,315.6 98.7,315.3 99.8,315.2 100.8,315.0 101.8,314.8 102.8,314.5 103.8,314.3 104.8,314.2 105.7,314.0 106.7,313.8 107.7,313.6 108.7,313.5 109.7,313.3 110.6,313.0 111.6,312.9 112.6,312.7 113.6,312.4 114.6,312.2 115.6,311.9 116.6,312.0 117.6,311.7 118.6,311.3 119.5,311.2 120.5,311.2 121.5,310.9 122.5,310.8 123.5,310.5 124.5,310.3 125.5,310.1 126.5,310.0 127.5,309.7 128.6,309.6 129.6,309.3 130.6,309.1 131.6,308.8 132.7,308.6 133.7,308.3 134.7,308.1 135.7,307.8 136.7,307.8 137.8,307.4 138.8,307.3 139.8,307.0 140.9,306.9 141.9,306.9 143.0,306.5 144.0,306.5 145.1,306.5 146.1,306.2 147.2,306.1 148.2,306.1 149.3,306.0 150.4,306.0 151.4,305.8 152.5,305.6 153.5,305.7 154.6,305.5 155.6,305.6 156.7,305.6 157.7,305.4 158.8,305.3 159.9,305.4 160.9,305.7 162.0,305.6 163.0,305.7 164.1,306.1 165.1,306.0 166.2,306.3 167.2,306.3 168.3,306.5 169.4,306.3 170.5,306.2 171.7,305.9 172.8,305.9 173.9,305.6 175.0,305.5 176.1,305.6 177.1,305.2 178.2,305.4 179.3,305.3 180.3,305.3 181.4,305.2 182.4,305.1 183.5,305.0 184.6,304.9 185.6,304.8 186.7,304.8 187.7,304.9 188.8,305.0 189.8,305.0 190.9,305.2 191.9,305.2 193.0,305.4 194.0,305.4 195.0,305.6 196.1,305.7 197.1,305.6 198.2,305.8 199.2,305.8 200.3,305.9 201.3,306.0 202.5,306.1 203.6,306.5 204.8,306.6 205.9,306.9 207.1,307.0 208.2,306.5 209.3,306.4 210.4,305.9 211.5,305.5 212.5,305.7 213.6,305.8 214.6,305.7 215.7,305.8 216.7,306.1 217.8,306.1 218.8,306.3 219.8,306.1 220.9,305.9 221.9,305.8 223.0,305.5 224.0,305.6 225.1,305.1 226.1,305.1 227.1,304.9 228.2,304.6 229.2,304.5 230.3,304.3 231.3,303.8 232.4,303.8 233.4,303.4 234.3,303.0 235.2,302.2 236.0,301.8 236.9,301.3 237.8,300.7 238.8,300.7 239.8,300.9 240.9,300.8 241.9,301.0 242.9,301.1 243.9,301.1 244.9,301.0 246.0,301.0 247.0,301.2 248.0,301.2 249.0,301.1 250.1,301.1 251.1,301.3 252.2,301.3 253.2,301.3 254.3,301.3 255.3,301.5 256.3,301.4 257.4,301.5 258.4,301.4 259.5,301.6 260.5,301.5 261.6,301.5 262.6,301.6 263.7,301.5 264.8,301.3 265.9,301.0 267.0,300.8 268.1,300.7 269.2,300.4"/>
<polyline stroke="#ebb23b" points="79.5,318.6 80.5,318.5 81.5,318.5 82.5,318.5 83.6,318.3 84.6,318.3 85.6,318.2 86.6,318.2 87.6,318.2 88.6,318.0 89.6,318.0 90.7,318.0 91.7,317.9 92.7,317.7 93.7,317.6 94.7,317.7 95.7,317.6 96.7,317.5 97.7,317.4 98.8,317.4 99.8,317.3 100.8,317.3 101.8,317.2 102.8,317.2 103.9,317.1 104.9,316.8 105.9,316.8 107.0,316.7 108.0,316.6 109.0,316.4 110.0,316.4 111.1,316.3 112.1,316.2 113.1,316.2 114.2,316.0 115.2,315.7 116.2,315.8 117.3,315.7 118.3,315.5 119.3,315.5 120.3,315.4 121.4,315.3 122.4,315.2 123.4,315.1 124.5,314.8 125.5,314.8 126.5,314.8 127.6,314.6 128.6,314.6 129.6,314.5 130.7,314.5 131.7,314.5 132.7,314.3 133.8,314.3 134.8,314.2 135.8,314.2 136.9,314.1 137.9,314.1 139.0,313.8 140.0,313.9 141.0,313.8 142.1,313.8 143.1,313.7 144.1,313.5 145.2,313.6 146.2,313.3 147.2,313.4 148.3,313.3 149.3,313.2 150.3,313.1 151.4,313.0 152.4,313.1 153.4,312.9 154.4,312.9 155.5,313.0 156.5,312.9 157.5,312.8 158.6,312.8 159.6,312.7 160.6,312.8 161.6,312.6 162.7,312.7 163.7,312.7 164.7,312.5 165.7,312.6 166.8,312.5 167.8,312.5 168.8,312.3 169.9,312.2 170.9,312.3 171.9,312.3 172.9,312.1 174.0,312.2 175.0,312.1 176.0,312.0 177.1,311.9 178.1,311.8 179.2,311.7 180.2,311.6 181.3,311.5 182.3,311.4 183.3,311.2 184.4,311.1 185.4,311.1 186.5,311.1 187.5,311.0 188.6,310.9 189.6,310.7 190.6,310.6 191.6,310.7 192.6,310.6 193.6,310.7 194.6,310.7 195.6,310.7 196.6,310.8 197.7,310.6 198.7,310.7 199.7,310.8 200.7,310.7 201.7,310.7 202.7,310.6 203.7,310.7 204.7,310.7 205.7,310.7 206.7,310.6 207.7,310.7 208.7,310.7 209.7,310.8 210.7,310.6 211.8,310.8 212.8,310.8 213.8,310.7 214.8,310.7 215.8,310.6 216.8,310.7 217.8,310.7 218.8,310.7 219.8,310.8 220.9,310.8 221.9,310.9 223.0,311.1 224.0,311.2 225.1,311.2 226.1,311.3 227.1,311.3 228.2,311.3 229.2,311.5 230.3,311.5 231.3,311.7 232.4,311.6 233.4,311.8 234.5,311.9 235.5,312.2 236.6,312.1 237.7,312.3 238.7,312.4 239.8,312.5 240.8,312.9 241.9,312.9 243.0,312.9 244.0,313.2 245.1,313.3 246.1,313.3 247.2,313.3 248.2,313.4 249.2,313.5 250.2,313.5 251.3,313.5 252.3,313.6 253.3,313.6 254.4,313.6 255.4,313.7 256.4,313.8 257.5,313.7 258.5,313.9 259.5,313.8 260.5,313.8 261.6,313.9 262.6,314.0 263.7,313.9 264.8,313.8 265.9,313.8 267.0,313.7 268.1,313.7 269.2,313.6"/>
<polyline stroke="#957cb9" points="79.5,318.6 80.5,318.5 81.5,318.5 82.5,318.1 83.5,317.5 84.5,317.4 85.5,316.4 86.5,315.9 87.5,315.5 88.5,315.1 89.4,314.6 90.3,313.9 91.3,314.0 92.2,312.3 93.2,312.1 94.2,311.5 95.1,311.8 96.0,310.6 97.0,310.1 97.7,309.1 98.4,308.6 99.2,308.2 99.9,307.1 100.6,306.1 101.3,305.8 102.0,305.7 102.8,303.9 103.5,303.9 104.2,302.9 104.9,301.8 105.7,301.8 106.4,301.0 107.1,300.0 107.8,299.0 108.5,297.9 109.2,298.1 109.9,296.7 110.6,296.8 111.3,295.6 112.0,294.8 112.7,293.8 113.2,293.4 113.7,291.6 114.3,291.8 114.8,290.6 115.3,289.3 115.8,288.5 116.4,287.7 116.9,286.8 117.4,285.9 117.9,284.6 118.3,283.8 118.8,283.1 119.2,282.7 119.7,280.9 120.1,280.5 120.6,279.6 121.1,279.3 121.6,277.1 122.2,277.1 122.7,276.1 123.2,275.0 123.7,274.4 124.3,272.3 124.8,271.9 125.3,270.9 125.8,270.3 126.4,268.9 126.9,267.5 127.4,267.2 128.0,266.4 128.5,265.1 129.0,264.5 129.6,262.8 130.1,262.2 130.7,261.6 131.3,261.0 131.9,260.0 132.4,258.8 133.0,257.5 133.6,257.3 134.2,256.0 134.8,255.0 136.0,255.1 137.2,254.2 138.3,254.4 139.3,254.1 140.4,255.0 141.2,254.8 141.9,253.6 142.7,252.7 143.8,252.3 144.8,251.4 145.9,250.8 146.4,250.5 146.9,249.7 147.3,248.2 147.8,247.8 148.3,246.3 148.7,245.9 149.2,244.7 149.6,243.0 150.1,243.1 150.5,241.7 151.0,240.9 151.4,240.0 152.0,239.7 152.5,238.3 153.1,237.8 153.6,236.5 154.2,235.5 155.0,234.2 155.9,233.5 156.7,232.7 157.6,232.8 158.4,231.3 159.0,230.9 159.6,229.9 160.2,228.9 160.8,227.2 161.3,227.1 161.9,225.9 162.5,224.5 163.1,224.5 163.7,223.3 164.8,223.4 165.8,223.5 166.8,222.7 167.9,223.3 168.6,224.2 169.3,224.5 170.1,225.9 170.8,226.6 171.5,227.6 172.2,228.1 172.8,226.9 173.4,226.2 174.1,224.6 174.7,223.7 175.3,223.3 175.9,224.1 176.6,224.9 177.2,225.7 177.9,227.1 178.5,227.5 178.9,227.0 179.4,225.1 179.8,224.2 180.3,224.3 180.7,222.9 181.2,221.9 181.6,220.7 181.9,220.3 182.2,218.1 182.5,217.4 182.8,216.8 183.1,215.5 183.4,215.4 183.8,214.3 184.1,213.2 184.4,211.4 184.7,210.9 185.0,210.5 185.3,209.1 185.6,207.5 185.9,207.0 186.6,205.9 187.3,204.7 188.0,204.2 188.7,203.5 189.4,203.1 190.1,201.8 190.8,200.5 191.5,200.2 192.2,198.8 192.9,198.7 193.6,198.1 194.3,196.5 195.1,195.0 196.0,195.3 196.8,193.3 197.7,193.8 198.5,192.3 199.3,191.7 200.1,191.0 200.9,190.0 201.7,189.1 202.4,190.8 203.1,191.2 203.8,192.3 204.4,191.8 205.1,190.0 205.7,189.4 206.4,188.9 207.0,188.0 208.0,187.9 209.1,188.3 210.1,189.1 210.4,188.5 210.7,186.7 211.0,186.2 211.3,184.9 211.6,183.8 211.8,183.0 212.1,182.0 212.4,181.8 212.7,181.1 213.0,179.2 213.3,178.5 214.0,178.0 214.7,176.6 215.4,176.3 216.1,174.9 216.8,173.8 217.5,173.3 218.0,173.8 218.6,175.7 219.1,176.0 219.6,177.5 220.2,176.8 220.9,175.4 221.5,175.0 222.2,174.5 222.8,173.3 223.7,173.1 224.6,172.1 225.5,171.8"/>
<line x1="79.5" y1="319.2" x2="269.5" y2="319.2" stroke="#858585" stroke-width="1.7"/>
</g>
<g stroke="#686868" stroke-width="1.1" fill="none">
<path d="M79.5,171.4 V335.9 H272.0"/>
<line x1="79.5" y1="319.0" x2="82.0" y2="319.0"/>
<line x1="79.5" y1="286.2" x2="82.0" y2="286.2"/>
<line x1="79.5" y1="253.4" x2="82.0" y2="253.4"/>
<line x1="79.5" y1="220.6" x2="82.0" y2="220.6"/>
<line x1="79.5" y1="187.8" x2="82.0" y2="187.8"/>
<line x1="126.9" y1="335.9" x2="126.9" y2="333.4"/>
<line x1="174.3" y1="335.9" x2="174.3" y2="333.4"/>
<line x1="221.7" y1="335.9" x2="221.7" y2="333.4"/>
<line x1="269.1" y1="335.9" x2="269.1" y2="333.4"/>
</g>
<text x="86.9" y="192.2" font-size="13" textLength="33.0" lengthAdjust="spacingAndGlyphs">GCA1</text>
<text x="74.9" y="324.9" font-size="15.5" text-anchor="end" style="stroke-width:0;fill:#1a1a1a">1</text>
<text x="74.9" y="292.1" font-size="15.5" text-anchor="end" style="stroke-width:0;fill:#1a1a1a">3</text>
<text x="74.9" y="259.3" font-size="15.5" text-anchor="end" style="stroke-width:0;fill:#1a1a1a">5</text>
<text x="74.9" y="226.5" font-size="15.5" text-anchor="end" style="stroke-width:0;fill:#1a1a1a">7</text>
<text x="74.9" y="193.7" font-size="15.5" text-anchor="end" style="stroke-width:0;fill:#1a1a1a">9</text>
<text x="79.5" y="355.9" font-size="16" text-anchor="middle" style="stroke-width:0;fill:#1a1a1a">0</text>
<text x="126.9" y="355.9" font-size="16" text-anchor="middle" style="stroke-width:0;fill:#1a1a1a">2</text>
<text x="174.3" y="355.9" font-size="16" text-anchor="middle" style="stroke-width:0;fill:#1a1a1a">4</text>
<text x="221.7" y="355.9" font-size="16" text-anchor="middle" style="stroke-width:0;fill:#1a1a1a">6</text>
<text x="269.1" y="355.9" font-size="16" text-anchor="middle" style="stroke-width:0;fill:#1a1a1a">8</text>
<g clip-path="url(#cGCA2)" fill="none" stroke-width="1.8" stroke-linejoin="round" stroke-linecap="butt">
<polyline stroke="#e0303f" points="285.0,318.6 286.0,317.9 287.0,318.3 288.0,318.6 289.0,318.7 290.1,317.5 291.1,317.3 292.1,317.8 293.1,317.3 294.1,317.2 295.1,316.9 296.1,316.6 297.1,317.2 298.1,316.0 299.1,316.9 300.2,315.5 301.2,315.6 302.2,315.8 303.2,315.4 304.2,315.3 305.2,315.4 306.2,315.2 307.3,315.1 308.3,313.9 309.4,314.7 310.4,314.1 311.5,314.1 312.5,313.5 313.4,313.1 314.4,312.6 315.3,312.5 316.2,312.2 317.2,311.8 318.1,310.8 319.0,310.7 319.9,309.4 320.9,308.9 321.8,307.7 322.7,307.4 323.6,307.1 324.8,306.3 326.1,307.0 327.3,306.2 328.2,305.7 329.1,304.7 330.1,304.0 331.0,302.7 331.9,302.5 332.8,301.9 333.7,301.4 334.7,300.4 335.6,299.6 336.5,299.7 337.4,299.6 338.4,298.6 339.3,298.9 340.2,297.8 341.4,296.6 342.7,296.6 343.7,296.2 344.8,294.9 345.8,295.0 346.6,294.0 347.4,293.0 348.2,292.9 349.0,291.9 349.6,290.6 350.3,290.1 350.9,289.1 351.6,289.3 352.2,287.9 352.8,286.4 353.4,286.1 353.9,284.0 354.5,283.5 355.0,284.7 355.6,285.9 356.1,287.1 357.3,287.5 358.5,287.9 359.7,288.2 360.9,288.7 361.7,287.1 362.5,286.3 362.8,287.2 363.1,288.3 363.4,289.1 363.6,291.0 363.9,292.4 364.2,292.7 364.5,293.9 364.8,295.0 365.4,294.5 366.1,293.6 366.7,292.1 367.4,291.2 368.0,290.3 368.6,289.3 369.1,288.8 369.7,286.8 370.2,286.7 370.8,285.1 371.4,285.5 372.0,287.1 372.1,288.4 372.3,289.1 372.4,290.9 372.6,292.1 372.7,292.7 372.7,294.3 372.8,294.0 372.8,295.3 372.9,296.9 372.9,297.6 373.0,299.3 373.0,300.4 373.0,300.4 373.1,301.1 373.1,302.5 373.2,304.4 373.2,304.1 373.2,305.4 373.3,306.0 373.3,307.8 373.4,308.2 373.4,309.1 373.5,310.3 373.5,311.7 373.8,313.1 374.0,314.4 374.3,315.4 374.6,315.9 374.8,317.4 375.1,318.0 375.9,318.7 376.7,319.8 377.5,321.2 378.0,322.5 378.4,322.6 378.9,324.3 379.3,324.2 379.8,325.5 380.2,327.3 380.7,327.5 381.7,327.8 382.8,328.3 383.8,329.1 384.9,328.9 386.0,329.3 387.0,329.8 388.1,329.5 389.2,330.1 390.2,330.7 391.3,330.2 392.3,331.4 393.4,331.3 394.4,331.9"/>
<polyline stroke="#18a4cf" points="285.0,318.6 286.1,318.6 287.1,318.6 288.2,318.4 289.3,318.6 290.3,318.4 291.4,318.4 292.5,318.5 293.5,318.4 294.6,318.3 295.7,318.2 296.7,318.3 297.8,318.2 298.9,318.0 299.9,318.0 301.0,317.9 302.1,317.9 303.2,317.7 304.2,317.6 305.3,317.4 306.4,317.4 307.5,317.3 308.6,317.2 309.6,317.1 310.7,316.9 311.7,316.9 312.7,316.6 313.7,316.4 314.7,316.2 315.7,316.0 316.7,316.0 317.6,316.0 318.6,315.7 319.6,315.6 320.6,315.6 321.6,315.3 322.6,315.1 323.6,315.0 324.6,314.8 325.6,314.5 326.6,314.4 327.6,314.1 328.6,313.9 329.7,313.6 330.7,313.3 331.7,313.2 332.7,312.9 333.7,312.9 334.7,312.6 335.7,312.4 336.7,312.0 337.7,311.8 338.7,311.3 339.7,311.1 340.8,310.8 341.8,310.5 342.8,310.2 343.8,309.8 344.8,309.6 345.8,309.3 346.8,308.9 347.8,308.2 348.8,307.8 349.8,307.5 350.7,307.1 351.7,306.4 352.7,306.0 353.7,305.6 354.6,305.1 355.5,304.7 356.4,304.2 357.3,303.8 358.1,303.4 359.0,302.9 359.9,302.3 360.8,301.7 361.7,301.4 362.6,300.8 363.5,300.3 364.3,299.7 365.2,299.1 366.1,298.7 367.0,298.3 367.8,297.6 368.7,297.0 369.6,296.6 370.7,296.1 371.7,295.8 372.8,295.5 373.8,295.0 374.8,294.7 375.9,294.2 377.0,293.9 378.0,293.8 379.1,293.5 380.3,293.9 381.5,294.3 382.6,294.8 383.8,295.0 384.9,295.2 385.9,295.7 387.0,295.8 387.8,295.2 388.6,294.5 389.5,293.8 390.3,293.2 391.1,292.6 392.0,291.8 392.9,291.2 393.9,290.7 394.8,289.7 395.7,289.3 396.6,288.5 397.5,288.0 398.5,287.8 399.4,287.3 400.4,287.0 401.3,286.6 402.4,286.9 403.6,287.6 404.8,288.1 405.9,288.5 406.8,289.2 407.8,289.7 408.7,290.2 409.6,290.7 411.0,291.3 412.3,291.8 412.5,292.9 412.6,294.0 412.8,295.3 413.0,296.5 413.1,297.6 413.3,298.7 414.5,298.8 415.8,298.8 417.0,298.7 417.9,299.4 418.9,299.9 419.8,300.6 420.7,301.1 421.9,301.2 423.0,301.4 424.1,301.7 425.3,301.8 425.7,302.7 426.0,304.0 426.4,304.9 426.7,306.0 427.1,307.0 428.0,307.7 429.0,308.4 429.9,309.1 430.8,309.7 430.9,310.7 431.1,311.8 431.2,312.6 431.3,313.7 431.5,314.6 431.6,315.8 431.8,316.6 431.9,317.7 432.0,318.6 432.2,319.6 432.3,320.7 432.4,321.6 432.6,322.6 432.7,323.6 433.6,324.2 434.6,324.5 435.5,325.1 436.6,325.4 437.7,325.7 438.8,326.1 439.9,326.6 441.0,326.9 442.1,327.1 443.2,327.5 444.3,327.8 445.4,328.0 446.5,328.2"/>
<polyline stroke="#ebb23b" points="285.0,318.6 286.0,318.6 287.0,318.6 288.0,318.5 289.0,318.5 290.0,318.6 291.0,318.5 292.0,318.5 293.0,318.4 294.0,318.5 295.0,318.4 296.0,318.5 297.0,318.5 298.0,318.5 299.0,318.4 300.0,318.3 301.0,318.4 302.0,318.3 303.0,318.4 304.0,318.4 305.0,318.4 306.0,318.4 307.0,318.4 308.0,318.3 309.0,318.4 310.0,318.3 311.0,318.2 312.0,318.2 313.0,318.3 314.0,318.3 315.0,318.2 316.0,318.2 317.0,318.3 318.0,318.2 319.0,318.1 320.0,318.1 321.0,318.2 322.0,318.2 323.0,318.1 324.0,318.1 325.0,318.0 326.0,318.1 327.0,318.1 328.0,318.1 329.0,318.1 330.0,318.0 331.1,317.9 332.1,317.8 333.2,317.7 334.2,317.6 335.3,317.3 336.3,317.2 337.4,317.2 338.4,316.9 339.5,316.9 340.5,316.7 341.6,316.5 342.6,316.4 343.7,316.4 344.7,316.2 345.8,316.1 346.8,316.0 347.8,315.9 348.8,315.7 349.8,315.5 350.8,315.4 351.8,315.4 352.8,315.2 353.8,315.0 354.7,314.9 355.7,314.8 356.7,314.6 357.7,314.4 358.7,314.3 359.7,314.3 360.7,314.2 361.7,314.0 362.7,313.9 363.7,313.7 364.7,313.6 365.7,313.5 366.7,313.3 367.7,313.3 368.7,313.1 369.7,312.9 370.7,312.7 371.7,312.7 372.7,312.5 373.8,312.6 374.8,312.5 375.9,312.4 377.0,312.5 378.0,312.5 379.1,312.5 380.1,312.7 381.2,312.7 382.2,313.0 383.3,312.9 384.3,313.1 385.4,313.3 386.4,313.5 387.5,313.5 388.5,313.6 389.6,313.8 390.6,313.9 391.7,314.1 392.7,314.1 393.8,314.2 394.8,314.4 395.8,314.6 396.8,315.0 397.8,315.2 398.8,315.3 399.8,315.6 400.9,315.9 401.9,316.1 402.9,316.3 403.9,316.7 404.9,316.8 405.9,317.1 406.8,316.7 407.8,316.2 408.7,315.8 409.6,315.3 410.8,315.1 412.1,314.9 413.3,314.7 414.2,315.3 415.1,315.9 416.1,316.5 417.0,317.1 418.1,317.4 419.1,317.6 420.2,317.9 421.2,318.2 422.3,318.4 423.3,318.8 424.4,319.0 425.1,319.8 425.9,320.5 426.6,321.2 427.4,322.0 428.1,322.7 429.0,323.2 430.0,323.5 430.9,324.1 431.8,324.5 432.2,325.6 432.5,326.8 432.9,328.0 433.2,328.9 433.6,330.1 434.7,330.2 435.7,330.5 436.8,330.7 437.8,330.9 438.9,331.1 439.9,331.3 441.0,331.4 442.1,331.6 443.2,331.8 444.3,331.9 445.4,332.1 446.5,332.3"/>
<polyline stroke="#957cb9" points="285.0,318.6 286.0,318.9 287.0,318.3 288.0,318.6 289.0,318.5 290.1,317.0 291.1,317.7 292.1,317.7 293.1,316.9 294.1,316.9 295.2,316.8 296.2,316.3 297.3,316.6 298.3,315.9 299.4,315.6 300.4,316.3 301.5,315.4 302.5,314.9 303.6,315.0 304.6,314.7 305.7,314.9 306.7,313.8 307.8,314.3 308.8,313.5 309.7,312.4 310.6,311.7 311.6,311.6 312.5,310.5 313.4,310.0 314.4,309.3 315.3,309.6 316.2,308.4 317.0,307.3 317.8,306.4 318.6,305.8 319.4,305.2 320.2,304.8 321.0,304.8 321.8,303.4 322.4,302.3 323.0,301.6 323.6,300.9 324.3,300.2 324.9,298.7 325.5,297.8 326.4,297.8 327.3,296.9 328.2,296.0 328.8,294.8 329.4,294.3 330.0,293.2 330.7,292.7 331.3,291.5 331.9,290.5 332.4,289.3 332.9,289.1 333.4,287.9 333.9,286.5 334.5,286.3 335.0,284.7 335.5,283.7 336.0,283.0 336.6,281.8 337.2,281.6 337.8,280.5 338.5,278.8 339.1,278.5 339.7,277.2 340.3,276.3 341.5,276.9 342.7,277.1 343.5,276.2 344.2,276.0 345.0,274.8 345.8,273.9 346.2,272.8 346.6,271.4 347.0,271.5 347.4,269.4 347.8,268.5 348.2,268.1 348.6,266.3 349.0,266.0 349.3,265.1 349.6,263.9 349.9,263.2 350.2,262.0 350.5,261.0 350.7,260.1 351.0,258.7 351.3,257.4 351.6,257.0 351.9,255.4 352.2,254.9 352.4,254.0 352.5,252.2 352.7,251.9 352.8,250.0 353.0,250.0 353.1,248.0 353.3,248.2 353.4,245.8 353.6,245.6 353.7,244.5 353.9,243.1 354.0,242.3 354.2,241.7 354.3,240.5 354.5,239.1 354.7,240.7 354.9,241.8 355.2,242.4 355.4,242.9 355.6,244.6 356.1,245.4 356.7,246.7 357.2,247.8 357.5,246.8 357.9,246.1 358.2,244.5 358.5,243.0 359.0,242.3 359.6,240.8 360.1,239.9 360.4,241.2 360.7,241.4 361.0,243.0 361.2,242.2 361.4,240.8 361.6,239.2 361.8,238.3 361.9,237.9 362.1,237.0 362.3,235.5 362.5,234.6 362.7,235.9 362.9,236.7 363.2,237.9 363.4,239.5 363.6,239.9 363.7,240.9 363.8,241.4 363.9,243.7 364.0,243.6 364.1,245.4 364.2,246.8 364.2,247.2 364.3,248.7 364.4,249.0 364.5,250.2 364.6,251.0 364.7,252.2 364.8,253.3 365.1,254.7 365.5,256.3 365.8,257.2 366.1,258.1 366.5,256.5 366.9,256.0 367.2,255.7 367.6,254.4 368.0,253.3 368.2,251.8 368.4,251.8 368.6,250.1 368.8,249.1 369.0,248.7 369.2,246.4 369.4,245.9 369.6,245.4 369.8,244.0 370.0,243.1 370.2,241.9 370.4,240.7 370.9,240.1 371.5,238.3 371.7,240.0 371.8,240.1 372.0,241.9 372.1,242.8 372.3,243.7 372.5,244.4 372.6,246.1 372.8,245.9 372.9,247.6 373.1,248.6 373.1,250.0 373.2,250.9 373.2,251.4 373.2,252.3 373.3,253.4 373.3,254.9 373.3,255.9 373.4,256.7 373.4,258.1 373.4,258.4 373.4,259.6 373.5,260.6 373.5,261.2 373.5,261.9 373.6,264.0 373.6,264.4 373.6,265.3 373.7,266.1 373.7,267.6 373.7,268.1 373.7,269.0 373.8,270.1 373.8,272.1 373.8,272.4 373.8,274.3 373.8,274.4 373.9,275.5 373.9,276.1 373.9,277.4 373.9,278.9 373.9,279.5 373.9,281.0 374.0,281.6 374.0,283.2 374.0,283.9 374.0,284.7 374.0,285.7 374.1,286.2 374.1,287.8 374.1,288.6 374.1,289.6 374.1,290.8 374.1,292.0 374.2,292.4 374.2,293.5 374.2,295.2 374.2,295.4 374.2,296.5 374.3,298.1 374.3,298.6 374.3,300.0 374.5,301.7 374.8,301.7 375.0,303.8 375.2,303.9 375.4,305.9 375.7,306.6 375.9,307.7 376.3,309.4 376.7,309.4 377.1,310.3 377.5,311.7 377.8,312.7 378.0,314.9 378.3,315.6 378.5,316.9 378.6,317.2 378.8,318.5 378.9,320.7 379.1,321.2 379.2,322.8 379.4,323.6 379.5,325.0 379.6,324.9 379.8,327.0 379.9,327.5 380.0,329.1 380.0,329.5 380.1,330.7 380.2,332.1 380.2,332.0 380.3,333.5"/>
<line x1="285.0" y1="319.2" x2="464.1" y2="319.2" stroke="#858585" stroke-width="1.7"/>
</g>
<g stroke="#686868" stroke-width="1.1" fill="none">
<path d="M285.0,171.4 V335.9 H478.0"/>
<line x1="285.0" y1="319.0" x2="287.5" y2="319.0"/>
<line x1="285.0" y1="286.2" x2="287.5" y2="286.2"/>
<line x1="285.0" y1="253.4" x2="287.5" y2="253.4"/>
<line x1="285.0" y1="220.6" x2="287.5" y2="220.6"/>
<line x1="285.0" y1="187.8" x2="287.5" y2="187.8"/>
<line x1="332.5" y1="335.9" x2="332.5" y2="333.4"/>
<line x1="380.0" y1="335.9" x2="380.0" y2="333.4"/>
<line x1="427.5" y1="335.9" x2="427.5" y2="333.4"/>
<line x1="475.0" y1="335.9" x2="475.0" y2="333.4"/>
</g>
<text x="292.5" y="192.2" font-size="13" textLength="33.5" lengthAdjust="spacingAndGlyphs">GCA2</text>
<text x="285.0" y="355.9" font-size="16" text-anchor="middle" style="stroke-width:0;fill:#1a1a1a">0</text>
<text x="332.5" y="355.9" font-size="16" text-anchor="middle" style="stroke-width:0;fill:#1a1a1a">2</text>
<text x="380.0" y="355.9" font-size="16" text-anchor="middle" style="stroke-width:0;fill:#1a1a1a">4</text>
<text x="427.5" y="355.9" font-size="16" text-anchor="middle" style="stroke-width:0;fill:#1a1a1a">6</text>
<text x="475.0" y="355.9" font-size="16" text-anchor="middle" style="stroke-width:0;fill:#1a1a1a">8</text>
<g clip-path="url(#cHeight)" fill="none" stroke-width="1.8" stroke-linejoin="round" stroke-linecap="butt">
<polyline stroke="#e0303f" points="491.3,318.9 492.4,318.8 493.4,318.9 494.5,318.6 495.6,318.1 496.7,318.0 497.7,317.1 498.8,316.7 499.9,316.5 501.0,316.3 502.1,316.0 503.1,315.6 504.2,316.0 505.3,314.5 506.4,314.6 507.5,314.5 508.6,314.1 509.7,314.8 510.8,314.0 511.9,313.5 513.0,313.6 514.1,313.8 515.2,313.3 516.3,313.2 517.4,312.6 518.5,312.9 519.6,313.4 520.6,312.1 521.7,312.7 522.8,312.3 523.9,311.7 525.0,311.9 526.0,312.0 527.0,311.8 528.0,311.1 529.0,310.6 530.0,311.0 531.1,311.0 532.1,310.1 533.2,310.6 534.2,309.9 535.3,309.3 536.3,309.1 537.3,309.1 538.3,307.8 539.4,308.5 540.4,307.8 541.4,307.1 542.4,306.8 543.4,306.8 544.5,306.7 545.5,306.6 546.5,305.9 547.5,306.2 548.6,305.7 549.7,305.8 550.8,306.1 551.9,305.0 553.0,305.4 554.1,305.9 555.2,304.5 556.3,304.9 557.4,305.1 558.5,304.8 559.6,304.5 560.6,304.6 561.7,303.2 562.8,303.6 563.9,303.7 565.0,303.1 566.1,302.8 567.2,302.2 568.3,302.6 569.4,302.5 570.5,302.1 571.6,302.2 572.7,301.2 573.8,301.4 574.8,301.5 575.9,301.6 576.9,301.4 578.0,300.8 579.0,300.5 580.2,299.7 581.3,299.9 582.5,298.8 583.6,298.5 584.6,298.6 585.7,297.7 586.8,296.8 587.9,297.6 588.9,296.8 590.0,296.3 591.5,296.5 592.9,296.2 594.0,296.1 595.2,296.6 596.3,296.7 597.4,296.0 598.5,296.5 599.7,296.3 600.8,295.7 601.9,295.7 603.1,294.9 604.2,295.7 605.3,295.1 606.4,295.1 607.6,295.6 608.7,294.9 609.7,294.8 610.7,295.1 611.7,294.5 612.7,293.8 613.7,293.8 614.7,293.7 615.7,294.4 616.7,293.6 617.7,293.6 618.7,292.9 619.7,292.4 620.7,291.1 621.6,291.4 622.6,290.5 623.6,289.5 624.6,289.6 625.6,289.5 626.6,288.9 627.6,288.5 628.5,287.3 629.5,287.6 630.5,286.6 631.5,286.8 632.5,286.2 633.4,285.8 634.4,285.6 635.3,284.6 636.3,284.4 637.2,283.2 638.2,282.9 639.1,283.0 640.1,282.9 641.1,282.8 642.2,282.7 643.2,283.2 644.2,283.2 645.2,282.2 646.3,282.2 647.3,283.2 648.3,282.5 649.4,282.6 650.6,282.5 651.7,282.7 652.8,281.4 653.9,281.5 655.1,281.9 656.2,281.7 657.3,281.1 658.3,281.8 659.4,281.4 660.4,281.0 661.5,280.4 662.5,279.8 663.5,280.2 664.5,280.7 665.6,280.1 666.6,279.4 667.6,279.5 668.6,279.1 669.6,279.4 670.6,279.4 671.7,279.8 672.7,278.8 673.7,279.4 674.7,279.1 675.7,278.4 676.6,278.9 677.6,278.8 678.6,277.2 679.5,278.0 680.5,277.2"/>
<polyline stroke="#18a4cf" points="491.3,318.9 492.4,318.6 493.4,318.2 494.5,318.0 495.6,317.6 496.7,317.4 497.7,317.0 498.8,316.7 499.8,316.6 500.9,316.5 501.9,316.1 502.9,316.0 503.9,316.0 505.0,315.8 506.0,315.8 507.0,315.6 508.1,315.5 509.1,315.2 510.1,314.9 511.2,314.7 512.2,314.7 513.2,314.7 514.2,314.3 515.3,314.2 516.3,314.1 517.4,314.0 518.4,313.7 519.5,313.6 520.5,313.5 521.6,313.4 522.6,313.0 523.7,312.9 524.7,312.8 525.8,312.5 526.8,312.3 527.9,312.2 528.9,312.0 530.0,311.9 531.0,311.7 532.0,311.4 532.9,311.2 533.9,310.6 534.9,310.4 535.9,310.2 536.8,309.8 537.8,309.5 538.8,309.3 539.9,309.2 541.0,308.7 542.1,308.5 543.1,308.3 544.2,308.2 545.3,307.9 546.4,307.7 547.5,307.5 548.6,307.2 549.7,307.1 550.8,307.0 551.9,306.5 553.0,306.4 554.1,306.2 555.2,305.9 556.3,305.8 557.4,305.6 558.5,305.5 559.6,305.5 560.6,305.3 561.7,305.4 562.8,305.2 563.9,304.9 565.0,304.9 566.1,305.0 567.2,304.7 568.3,304.9 569.4,304.8 570.5,304.7 571.6,304.4 572.7,304.5 573.8,304.4 574.8,304.4 575.8,304.5 576.8,304.5 577.8,304.4 578.9,304.5 579.9,304.3 580.9,304.3 581.9,304.4 582.9,304.5 583.9,304.3 584.9,304.3 586.0,304.5 587.0,304.5 588.0,304.3 589.0,304.5 590.0,304.4 591.0,304.3 592.0,304.4 593.1,304.2 594.1,304.2 595.1,304.1 596.1,304.2 597.1,304.1 598.2,304.1 599.2,303.9 600.2,304.0 601.2,304.0 602.2,303.9 603.2,303.7 604.3,303.8 605.3,303.6 606.3,303.7 607.3,303.6 608.3,303.4 609.4,303.5 610.4,303.3 611.4,303.4 612.4,303.3 613.4,303.4 614.4,303.5 615.5,303.3 616.5,303.5 617.5,303.3 618.5,303.6 619.5,303.5 620.5,303.6 621.6,303.5 622.6,303.6 623.6,303.5 624.6,303.6 625.6,303.5 626.6,303.5 627.6,303.5 628.7,303.5 629.7,303.4 630.7,303.4 631.7,303.3 632.7,303.2 633.7,303.2 634.8,303.2 635.8,303.2 636.8,303.3 637.8,303.1 638.8,303.1 639.8,303.0 640.8,303.2 641.9,303.0 642.9,303.2 643.9,303.1 644.9,303.1 645.9,302.9 646.9,302.9 648.0,302.8 649.0,302.9 650.0,302.8 651.0,302.8 652.0,302.6 653.0,302.5 654.0,302.6 655.1,302.4 656.1,302.3 657.1,302.2 658.1,302.0 659.1,302.1 660.1,302.0 661.2,301.8 662.2,301.7 663.2,301.7 664.2,301.5 665.2,301.6 666.2,301.6 667.3,301.3 668.3,301.3 669.3,301.3 670.3,301.4 671.3,301.3 672.4,301.2 673.4,301.3 674.4,301.2 675.4,301.1 676.4,301.0 677.4,301.0 678.5,301.0 679.5,301.0 680.5,301.0"/>
<polyline stroke="#ebb23b" points="491.3,318.9 492.3,318.7 493.3,318.7 494.3,318.5 495.4,318.4 496.4,318.3 497.4,318.2 498.4,318.1 499.4,318.1 500.4,317.9 501.4,317.8 502.4,317.7 503.4,317.6 504.5,317.4 505.5,317.3 506.5,317.2 507.5,317.1 508.5,317.0 509.6,316.9 510.6,316.8 511.6,316.7 512.6,316.5 513.7,316.6 514.7,316.4 515.7,316.4 516.8,316.1 517.8,316.1 518.8,315.9 519.9,315.9 520.9,315.8 521.9,315.7 522.9,315.5 524.0,315.5 525.0,315.4 526.0,315.4 527.0,315.2 528.0,315.2 529.0,315.2 530.0,315.0 531.1,314.8 532.2,314.6 533.3,314.5 534.4,314.3 535.5,314.1 536.6,313.9 537.7,313.7 538.8,313.6 539.9,313.5 541.0,313.5 542.1,313.3 543.1,313.1 544.2,313.2 545.3,312.9 546.4,312.9 547.5,312.8 548.5,312.8 549.5,312.7 550.5,312.7 551.5,312.7 552.5,312.5 553.5,312.5 554.6,312.3 555.6,312.4 556.6,312.3 557.6,312.3 558.6,312.2 559.6,312.2 560.6,312.1 561.6,312.1 562.6,311.9 563.6,311.9 564.7,312.0 565.7,311.9 566.7,311.9 567.7,311.8 568.7,311.8 569.7,311.7 570.8,311.7 571.8,311.6 572.8,311.7 573.8,311.6 574.8,311.6 575.8,311.6 576.8,311.5 577.8,311.5 578.9,311.6 579.9,311.5 580.9,311.5 581.9,311.5 582.9,311.6 583.9,311.5 584.9,311.6 586.0,311.5 587.0,311.4 588.0,311.5 589.0,311.5 590.0,311.5 591.0,311.6 592.0,311.5 593.1,311.4 594.1,311.6 595.1,311.4 596.1,311.5 597.1,311.5 598.2,311.6 599.2,311.5 600.2,311.5 601.2,311.6 602.2,311.5 603.2,311.5 604.3,311.5 605.3,311.4 606.3,311.5 607.3,311.5 608.3,311.4 609.4,311.6 610.4,311.4 611.4,311.5 612.4,311.6 613.4,311.5 614.4,311.5 615.5,311.5 616.5,311.6 617.5,311.4 618.5,311.6 619.5,311.6 620.5,311.4 621.6,311.5 622.6,311.5 623.6,311.4 624.6,311.3 625.6,311.5 626.6,311.4 627.6,311.4 628.7,311.4 629.7,311.5 630.7,311.4 631.7,311.4 632.7,311.5 633.7,311.4 634.8,311.4 635.8,311.4 636.8,311.5 637.8,311.5 638.8,311.3 639.8,311.4 640.8,311.4 641.9,311.4 642.9,311.4 643.9,311.3 644.9,311.3 645.9,311.4 646.9,311.3 648.0,311.3 649.0,311.3 650.0,311.4 651.0,311.3 652.0,311.2 653.0,311.3 654.1,311.1 655.1,311.2 656.1,311.1 657.1,311.1 658.1,311.1 659.1,311.1 660.2,311.0 661.2,311.0 662.2,310.9 663.2,310.8 664.2,310.9 665.2,310.7 666.3,310.7 667.3,310.7 668.3,310.7 669.3,310.6 670.3,310.6 671.3,310.5 672.4,310.5 673.4,310.5 674.4,310.5 675.4,310.5 676.4,310.3 677.4,310.4 678.5,310.2 679.5,310.2 680.5,310.2"/>
<polyline stroke="#957cb9" points="491.3,318.9 492.2,317.7 493.2,318.0 494.1,317.7 495.1,317.4 496.0,316.4 496.9,315.3 497.9,315.5 498.8,315.0 499.8,314.5 500.7,314.6 501.7,313.8 502.7,313.7 503.6,313.0 504.6,311.7 505.6,311.6 506.5,311.5 507.5,311.0 508.5,311.1 509.5,310.6 510.5,310.5 511.5,310.1 512.5,309.3 513.5,308.7 514.5,308.4 515.6,308.5 516.7,308.6 517.8,308.2 518.9,308.9 520.0,308.9 521.1,309.3 522.2,308.6 523.3,308.8 524.1,308.0 525.0,307.4 525.8,307.3 526.6,306.2 527.5,305.5 528.3,305.6 529.2,305.3 530.0,304.0 530.9,303.0 531.8,302.4 532.6,301.6 533.5,302.2 534.4,301.0 535.3,300.5 536.2,300.2 537.0,298.9 537.9,299.3 538.8,299.0 539.7,297.8 540.5,297.2 541.4,296.6 542.4,296.7 543.4,295.5 544.5,295.1 545.5,294.7 546.5,294.3 547.5,293.5 548.4,293.0 549.2,292.0 550.1,291.7 551.0,292.1 551.9,291.4 552.7,290.7 553.6,290.0 555.2,289.6 556.3,290.0 557.3,289.2 558.4,289.4 559.5,289.3 560.6,288.5 561.6,288.4 562.7,288.1 563.6,286.9 564.6,286.8 565.5,286.0 566.5,286.1 567.4,286.1 568.3,284.8 569.3,284.1 570.2,283.9 571.2,283.3 572.3,283.0 573.4,283.0 574.4,282.8 575.5,283.3 576.5,282.6 577.7,283.4 578.7,283.0 579.7,281.7 580.7,281.0 581.7,281.3 582.7,280.1 583.6,279.9 584.5,279.6 585.4,279.1 586.4,278.6 587.3,277.1 588.2,277.5 589.1,277.1 590.0,276.4 591.0,275.4 591.9,275.8 592.9,275.1 593.9,274.8 594.9,273.6 595.9,273.5 596.8,273.8 597.8,272.0 598.8,272.3 599.8,272.4 600.8,271.2 601.9,271.4 603.1,270.5 604.2,270.4 605.3,271.3 606.4,270.6 607.6,270.7 608.7,270.4 609.8,270.3 610.9,270.5 612.0,270.8 613.1,270.1 614.2,270.6 615.3,269.9 616.1,269.4 616.8,267.8 617.6,268.2 618.3,266.8 619.1,265.5 619.8,265.1 620.6,264.6 621.4,263.6 622.2,263.5 623.1,262.1 623.9,261.4 624.7,260.9 625.6,260.4 626.4,260.4 627.2,259.3 628.1,258.5 629.0,257.7 629.8,257.1 630.7,256.8 631.6,256.4 632.5,256.4 633.3,255.0 634.2,255.3 635.1,254.0 635.9,254.0 636.7,253.0 637.5,252.7 638.3,251.3 639.1,250.7 639.9,250.1 640.8,250.3 641.7,251.4 642.8,250.8 643.9,251.6 645.0,250.7 646.1,251.1 647.2,250.1 648.3,250.1 649.3,249.8 650.3,249.2 651.3,248.7 652.2,249.4 653.2,248.3 654.2,249.1 655.2,248.1 656.2,248.2 657.1,248.1 658.0,247.0 658.9,246.4 659.7,245.9 660.6,245.3 661.5,244.8 662.5,244.7 663.5,244.2 664.5,244.0 665.5,244.2 666.4,243.1 667.4,242.9 668.4,243.2 669.4,242.2 670.5,242.5 671.5,241.5 672.6,241.3 673.6,240.1 674.7,240.3 675.7,239.4 676.6,239.6 677.6,239.0 678.6,238.5 679.5,236.9 680.5,236.9"/>
<line x1="491.4" y1="319.2" x2="682.0" y2="319.2" stroke="#858585" stroke-width="1.7"/>
</g>
<g stroke="#686868" stroke-width="1.1" fill="none">
<path d="M491.4,171.4 V335.9 H683.8"/>
<line x1="491.4" y1="319.0" x2="493.9" y2="319.0"/>
<line x1="491.4" y1="286.2" x2="493.9" y2="286.2"/>
<line x1="491.4" y1="253.4" x2="493.9" y2="253.4"/>
<line x1="491.4" y1="220.6" x2="493.9" y2="220.6"/>
<line x1="491.4" y1="187.8" x2="493.9" y2="187.8"/>
<line x1="538.7" y1="335.9" x2="538.7" y2="333.4"/>
<line x1="586.0" y1="335.9" x2="586.0" y2="333.4"/>
<line x1="633.3" y1="335.9" x2="633.3" y2="333.4"/>
<line x1="680.6" y1="335.9" x2="680.6" y2="333.4"/>
</g>
<text x="498.1" y="191.9" font-size="13" textLength="39.5" lengthAdjust="spacingAndGlyphs">Height</text>
<text x="491.4" y="355.9" font-size="16" text-anchor="middle" style="stroke-width:0;fill:#1a1a1a">0</text>
<text x="538.7" y="355.9" font-size="16" text-anchor="middle" style="stroke-width:0;fill:#1a1a1a">2</text>
<text x="586.0" y="355.9" font-size="16" text-anchor="middle" style="stroke-width:0;fill:#1a1a1a">4</text>
<text x="633.3" y="355.9" font-size="16" text-anchor="middle" style="stroke-width:0;fill:#1a1a1a">6</text>
<text x="680.6" y="355.9" font-size="16" text-anchor="middle" style="stroke-width:0;fill:#1a1a1a">8</text>
<line x1="182" y1="13.8" x2="213" y2="13.8" stroke="#e0303f" stroke-width="1.6"/>
<text x="216.2" y="18.8" font-size="13" textLength="18.3" lengthAdjust="spacingAndGlyphs">HD</text>
<line x1="182" y1="30.2" x2="213" y2="30.2" stroke="#18a4cf" stroke-width="1.6"/>
<text x="216.2" y="35.2" font-size="13" textLength="23.0" lengthAdjust="spacingAndGlyphs">Any</text>
<line x1="182" y1="46.5" x2="213" y2="46.5" stroke="#ebb23b" stroke-width="1.6"/>
<text x="216.2" y="51.5" font-size="13" textLength="31.8" lengthAdjust="spacingAndGlyphs">Brain</text>
<line x1="182" y1="62.9" x2="213" y2="62.9" stroke="#957cb9" stroke-width="1.6"/>
<text x="216.2" y="67.9" font-size="13" textLength="49.8" lengthAdjust="spacingAndGlyphs">HDBrain</text>
<line x1="182" y1="79.3" x2="213" y2="79.3" stroke="#858585" stroke-width="1.6"/>
<text x="216.2" y="84.3" font-size="13" textLength="50.0" lengthAdjust="spacingAndGlyphs">All SNPs</text>
<g transform="translate(12.2,0) rotate(-90)" style="stroke-width:0.1px;fill:#000;stroke:#000" font-size="16.5">
<text x="-202.31" y="0" textLength="3.90" lengthAdjust="spacingAndGlyphs">f</text>
<text x="-197.35" y="0" textLength="8.60" lengthAdjust="spacingAndGlyphs">o</text>
<text x="-187.89" y="0" textLength="3.67" lengthAdjust="spacingAndGlyphs">l</text>
<text x="-183.44" y="0" textLength="8.53" lengthAdjust="spacingAndGlyphs">d</text>
<text x="-168.13" y="0" textLength="8.30" lengthAdjust="spacingAndGlyphs">e</text>
<text x="-157.44" y="0" textLength="7.86" lengthAdjust="spacingAndGlyphs">n</text>
<text x="-147.96" y="0" textLength="5.33" lengthAdjust="spacingAndGlyphs">r</text>
<text x="-141.93" y="0" textLength="3.67" lengthAdjust="spacingAndGlyphs">i</text>
<text x="-137.32" y="0" textLength="7.01" lengthAdjust="spacingAndGlyphs">c</text>
<text x="-128.75" y="0" textLength="8.44" lengthAdjust="spacingAndGlyphs">h</text>
<text x="-118.52" y="0" textLength="14.03" lengthAdjust="spacingAndGlyphs">m</text>
<text x="-103.54" y="0" textLength="8.42" lengthAdjust="spacingAndGlyphs">e</text>
<text x="-93.58" y="0" textLength="8.25" lengthAdjust="spacingAndGlyphs">n</text>
<text x="-83.75" y="0" textLength="4.68" lengthAdjust="spacingAndGlyphs">t</text>
</g>
<text x="302.64" y="375.8" font-size="14.5" style="fill:#000;stroke:#000;stroke-width:0.25px" textLength="10.21" lengthAdjust="spacingAndGlyphs">N</text>
<text x="313.31" y="375.8" font-size="14.5" style="fill:#000;stroke:#000;stroke-width:0.25px" textLength="7.77" lengthAdjust="spacingAndGlyphs">o</text>
<text x="322.10" y="375.8" font-size="14.5" style="fill:#000;stroke:#000;stroke-width:0.25px" textLength="12.60" lengthAdjust="spacingAndGlyphs">m</text>
<text x="335.49" y="375.8" font-size="14.5" style="fill:#000;stroke:#000;stroke-width:0.25px" textLength="3.22" lengthAdjust="spacingAndGlyphs">i</text>
<text x="339.33" y="375.8" font-size="14.5" style="fill:#000;stroke:#000;stroke-width:0.25px" textLength="8.12" lengthAdjust="spacingAndGlyphs">n</text>
<text x="348.16" y="375.8" font-size="14.5" style="fill:#000;stroke:#000;stroke-width:0.25px" textLength="6.85" lengthAdjust="spacingAndGlyphs">a</text>
<text x="356.99" y="375.8" font-size="14.5" style="fill:#000;stroke:#000;stroke-width:0.25px" textLength="3.22" lengthAdjust="spacingAndGlyphs">l</text>
<text x="365.65" y="375.8" font-size="14.5" style="fill:#000;stroke:#000;stroke-width:0.25px" textLength="5.59" lengthAdjust="spacingAndGlyphs">-</text>
<text x="372.20" y="375.8" font-size="14.5" style="fill:#000;stroke:#000;stroke-width:0.25px" textLength="7.44" lengthAdjust="spacingAndGlyphs">L</text>
<text x="380.13" y="375.8" font-size="14.5" style="fill:#000;stroke:#000;stroke-width:0.25px" textLength="7.54" lengthAdjust="spacingAndGlyphs">o</text>
<text x="389.17" y="375.8" font-size="14.5" style="fill:#000;stroke:#000;stroke-width:0.25px" textLength="7.05" lengthAdjust="spacingAndGlyphs">g</text>
<text x="397.58" y="375.8" font-size="14.5" style="fill:#000;stroke:#000;stroke-width:0.25px" textLength="4.40" lengthAdjust="spacingAndGlyphs">(</text>
<text x="404.04" y="375.8" font-size="14.5" style="fill:#000;stroke:#000;stroke-width:0.25px" textLength="7.42" lengthAdjust="spacingAndGlyphs">p</text>
<text x="413.12" y="375.8" font-size="14.5" style="fill:#000;stroke:#000;stroke-width:0.25px" textLength="4.65" lengthAdjust="spacingAndGlyphs">)</text>
</svg></body></html>
